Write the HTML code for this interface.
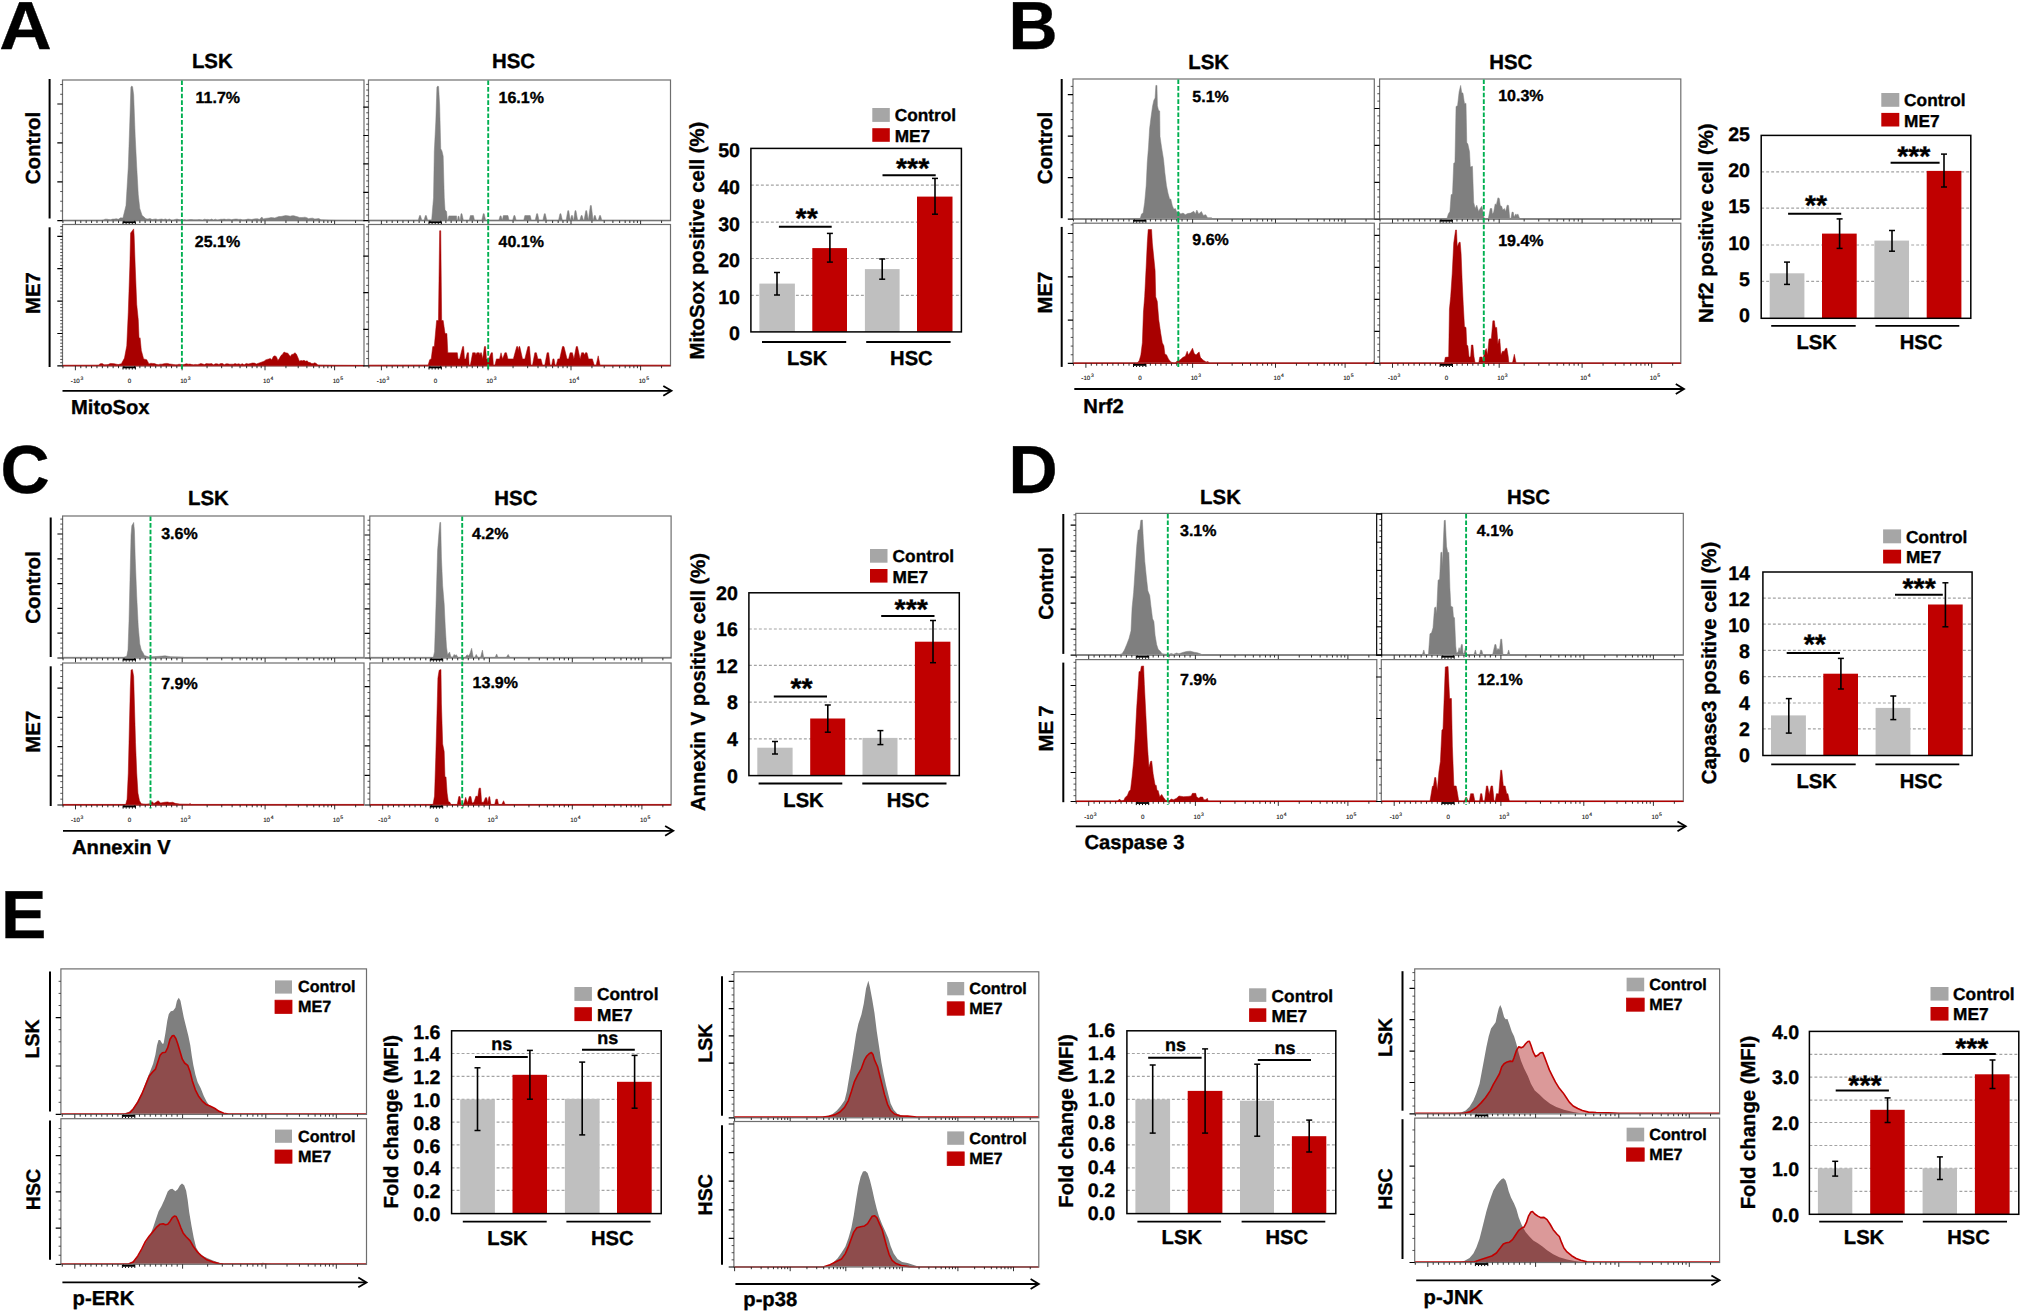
<!DOCTYPE html>
<html lang="en"><head><meta charset="utf-8"><title>Figure</title>
<style>html,body{margin:0;padding:0;background:#fff}svg{display:block}text{stroke:#000;stroke-width:.35px;stroke-linejoin:round}text.n{stroke:#111;stroke-width:.12px}</style></head>
<body>
<svg width="2020" height="1312" viewBox="0 0 2020 1312" font-family='"Liberation Sans", Arial, Helvetica, sans-serif' font-weight="bold" fill="#000" text-rendering="geometricPrecision">
<text x="-0.8" y="49.3" font-size="68" textLength="52.5" lengthAdjust="spacingAndGlyphs">A</text>
<rect x="62.5" y="80" width="301.5" height="140.7" fill="#fff"/>
<g clip-path="url(#c_A00)">
<clipPath id="c_A00"><rect x="62.5" y="80" width="301.5" height="141.7"/></clipPath>
<path d="M63.07 220.1L63.07 220.33L101.44 220.18L103.28 219.95L105.12 219.15L106.96 219.14L108.8 219.56L110.64 219.72L112.56 219.11L114.48 219.04L116.4 218.72L118.32 219.26L120.62 217.86L122.92 218.03L125.99 205.45L128.29 167.08L129.83 121.04L130.9 87.28L131.67 86.05L132.59 86.66L133.66 94.95L135.2 136.39L136.73 167.08L138.27 194.71L139.8 208.52L142.11 215.42L144.02 217.02L145.94 218.8L147.99 219.03L150.03 218.48L152.08 219.57L154 219.17L155.92 218.88L157.84 219.68L159.75 219.28L161.67 219.04L163.59 219.57L165.51 218.89L167.43 219.87L169.35 218.99L171.26 219.88L173.18 219.91L175.1 219.41L177.02 219.03L178.94 219.61L180.86 219.79L182.77 220.03L184.58 219.61L186.39 220L188.19 219.81L190 219.59L191.8 219.53L193.61 219.79L195.41 219.8L197.22 219.81L199.02 219.57L200.83 219.74L202.64 220.01L204.44 219.19L206.25 219.47L208.05 219.39L209.86 219.84L211.66 219.04L213.47 220.03L215.27 219.16L217.08 219.89L218.88 219.67L220.69 219.27L222.5 219.27L224.3 219.04L226.11 219.54L227.91 219.13L229.72 219.28L231.52 219.63L233.33 219.34L235.13 219.04L236.94 219.06L238.75 219.4L240.55 219.3L242.36 219.85L244.16 219.87L246.08 219.57L248 218.96L249.92 219.29L251.84 219.47L253.75 219.04L255.67 218.83L257.59 218.8L259.51 219.41L261.81 216.96L263.35 218.95L265.26 218.43L267.18 218.21L269.1 217.98L271.02 217.56L272.94 217.67L274.86 218.03L276.9 217.13L278.95 216.52L280.99 216.5L283.3 216.01L285.6 215.58L287.9 215.84L290.2 216.19L292.04 215.73L293.89 215.7L295.73 216.33L297.57 216.78L299.41 217.42L301.25 217.49L303.09 217.41L304.94 217.17L306.78 217.63L308.62 218.65L310.67 218.29L312.71 218.14L314.76 218.95L316.8 218.85L318.85 218.59L320.9 219.72L336.24 220.18L363.1 220.33L363.1 220.1Z" fill="#7f7f7f" stroke="#7f7f7f" stroke-width="0.5" stroke-linejoin="round"/>
</g>
<rect x="62.5" y="80" width="301.5" height="140.7" fill="none" stroke="#6e6e6e" stroke-width="1.2"/>
<path d="M62.5 210.97h-2.3M62.5 201.25h-2.3M62.5 191.53h-2.3M62.5 172.08h-2.3M62.5 162.35h-2.3M62.5 152.63h-2.3M62.5 133.18h-2.3M62.5 123.45h-2.3M62.5 113.73h-2.3M62.5 94.28h-2.3M62.5 84.55h-2.3" fill="none" stroke="#2a2a2a" stroke-width="0.8"/>
<path d="M62.5 104h-5.2M62.5 142.9h-5.2M62.5 181.8h-5.2M62.5 220.7h-5.2" fill="none" stroke="#000" stroke-width="1.2"/>
<path d="M75.4 220.7v4.4M182.1 220.7v4.4M265 220.7v4.4M334.6 220.7v4.4M207.06 220.7v2.3M221.65 220.7v2.3M232.01 220.7v2.3M240.04 220.7v2.3M246.61 220.7v2.3M252.16 220.7v2.3M256.97 220.7v2.3M261.21 220.7v2.3M285.95 220.7v2.3M298.21 220.7v2.3M306.9 220.7v2.3M313.65 220.7v2.3M319.16 220.7v2.3M323.82 220.7v2.3M327.86 220.7v2.3M331.42 220.7v2.3M355.55 220.7v2.3M134.58 220.7v2.3M123.91 220.7v2.3M139.86 220.7v2.3M118.52 220.7v2.3M145.14 220.7v2.3M113.13 220.7v2.3M150.42 220.7v2.3M107.74 220.7v2.3M155.7 220.7v2.3M102.35 220.7v2.3M160.98 220.7v2.3M96.96 220.7v2.3M166.26 220.7v2.3M91.57 220.7v2.3M171.54 220.7v2.3M86.18 220.7v2.3M176.82 220.7v2.3M80.79 220.7v2.3M62.92 220.7v2.3" fill="none" stroke="#1a1a1a" stroke-width="0.9"/>
<rect x="122.5" y="221.3" width="13.4" height="1.8" fill="#000"/>
<path d="M123 222.9v1.4M126.1 222.9v1.4M129.2 222.9v1.4M132.3 222.9v1.4M135.4 222.9v1.4" fill="none" stroke="#000" stroke-width="1"/>
<rect x="62.5" y="224.5" width="301.5" height="141.4" fill="#fff"/>
<g clip-path="url(#c_A10)">
<clipPath id="c_A10"><rect x="62.5" y="224.5" width="301.5" height="142.4"/></clipPath>
<path d="M63.07 365.3L63.07 365.33L98.37 365.18L100.29 363.73L102.2 363.62L104.12 364.76L106.04 364.72L108.09 364.58L110.13 363.5L112.18 363.61L114.23 363.68L116.27 364.16L118.32 364.57L121.39 363.65L124.46 358.12L126.76 345.84L128.29 312.08L129.83 266.04L130.6 233.04L133.66 228.9L134.13 235.35L135.2 266.04L136.73 304.41L138.27 319.75L139.04 338.17L140.11 337.86L141.34 350.45L143.64 358.89L146.71 359.66L149.01 363.95L150.85 363.26L152.69 363.41L154.54 363.6L156.38 364.35L158.22 364.72L160.11 364.13L162 364.19L163.89 363.74L165.78 363.38L167.66 363.45L169.55 364.03L171.44 364.18L173.33 364.44L175.22 364.78L177.11 364.8L179 364.2L180.89 364.42L182.77 364.87L184.58 364.34L186.39 363.63L188.19 364.14L190 364.09L191.8 364.54L193.61 364.84L195.41 364.42L197.22 364.68L199.02 364.16L200.83 363.48L202.64 363.93L204.44 364.62L206.25 363.62L208.05 363.76L209.86 363.85L211.66 363.6L213.47 364.87L215.27 363.81L217.08 363.77L218.88 364.38L220.69 363.5L222.5 363.53L224.3 364.65L226.11 363.82L227.91 363.87L229.72 364.23L231.52 364.13L233.33 364.19L235.13 363.58L236.94 364.17L238.75 363.71L240.55 364.38L242.36 363.64L244.16 364.87L246.21 363.46L248.25 363.92L250.3 363.62L252.35 362.97L254.39 363.09L256.44 363.95L264.11 361.19L265.65 359.89L267.18 359.39L268.72 359L270.25 358.46L271.79 359.66L273.32 356.55L274.86 355.82L276.39 356.65L277.93 360.42L279.46 358.33L280.99 355.59L282.53 354.28L284.06 352.01L285.6 352.75L287.9 353.21L290.2 356.59L291.74 354.4L293.27 354.28L294.81 352.69L296.34 353.98L297.88 357.4L299.41 361.19L300.95 360.44L302.48 360.8L304.01 360.32L305.55 361.19L307.08 360.85L308.62 362.32L310.15 362.57L311.69 363.49L313.22 363.43L314.76 362.79L316.29 363.42L317.83 365.03L336.24 365.33L363.1 365.49L363.1 365.3Z" fill="#a80000" stroke="#a80000" stroke-width="0.5" stroke-linejoin="round"/>
</g>
<rect x="62.5" y="224.5" width="301.5" height="141.4" fill="none" stroke="#6e6e6e" stroke-width="1.2"/>
<line x1="62.5" y1="365.8" x2="364" y2="365.8" stroke="#b00000" stroke-width="1.1"/>
<path d="M62.5 362.66h-2.3M62.5 359.42h-2.3M62.5 356.18h-2.3M62.5 352.94h-2.3M62.5 349.7h-2.3M62.5 346.46h-2.3M62.5 343.22h-2.3M62.5 339.98h-2.3M62.5 336.74h-2.3M62.5 330.26h-2.3M62.5 327.02h-2.3M62.5 323.78h-2.3M62.5 320.54h-2.3M62.5 317.3h-2.3M62.5 314.06h-2.3M62.5 310.82h-2.3M62.5 307.58h-2.3M62.5 304.34h-2.3M62.5 297.86h-2.3M62.5 294.62h-2.3M62.5 291.38h-2.3M62.5 288.14h-2.3M62.5 284.9h-2.3M62.5 281.66h-2.3M62.5 278.42h-2.3M62.5 275.18h-2.3M62.5 271.94h-2.3M62.5 265.46h-2.3M62.5 262.22h-2.3M62.5 258.98h-2.3M62.5 255.74h-2.3M62.5 252.5h-2.3M62.5 249.26h-2.3M62.5 246.02h-2.3M62.5 242.78h-2.3M62.5 239.54h-2.3M62.5 233.06h-2.3M62.5 229.82h-2.3M62.5 226.58h-2.3" fill="none" stroke="#2a2a2a" stroke-width="0.8"/>
<path d="M62.5 236.3h-5.2M62.5 268.7h-5.2M62.5 301.1h-5.2M62.5 333.5h-5.2M62.5 365.9h-5.2" fill="none" stroke="#000" stroke-width="1.2"/>
<path d="M75.4 365.9v4.4M182.1 365.9v4.4M265 365.9v4.4M334.6 365.9v4.4M207.06 365.9v2.3M221.65 365.9v2.3M232.01 365.9v2.3M240.04 365.9v2.3M246.61 365.9v2.3M252.16 365.9v2.3M256.97 365.9v2.3M261.21 365.9v2.3M285.95 365.9v2.3M298.21 365.9v2.3M306.9 365.9v2.3M313.65 365.9v2.3M319.16 365.9v2.3M323.82 365.9v2.3M327.86 365.9v2.3M331.42 365.9v2.3M355.55 365.9v2.3M134.58 365.9v2.3M123.91 365.9v2.3M139.86 365.9v2.3M118.52 365.9v2.3M145.14 365.9v2.3M113.13 365.9v2.3M150.42 365.9v2.3M107.74 365.9v2.3M155.7 365.9v2.3M102.35 365.9v2.3M160.98 365.9v2.3M96.96 365.9v2.3M166.26 365.9v2.3M91.57 365.9v2.3M171.54 365.9v2.3M86.18 365.9v2.3M176.82 365.9v2.3M80.79 365.9v2.3M62.92 365.9v2.3" fill="none" stroke="#1a1a1a" stroke-width="0.9"/>
<rect x="122.5" y="366.5" width="13.4" height="1.8" fill="#000"/>
<path d="M123 368.1v1.4M126.1 368.1v1.4M129.2 368.1v1.4M132.3 368.1v1.4M135.4 368.1v1.4" fill="none" stroke="#000" stroke-width="1"/>
<rect x="368.5" y="80" width="302" height="140.7" fill="#fff"/>
<g clip-path="url(#c_A01)">
<clipPath id="c_A01"><rect x="368.5" y="80" width="302" height="141.7"/></clipPath>
<path d="M369.07 220.1L369.07 220.18L418.27 220.18L419.56 215.58L420.48 215.58L421.77 220.18L424.1 220.18L425.39 215.58L426.31 215.58L427.6 220.18L431.68 220.03L433.53 197.77L434.29 151.73L435.83 121.04L436.9 87.28L437.82 86.05L438.59 86.51L439.66 105.69L440.74 148.66L441.97 150.97L443.19 156.34L444.27 197.77L445.04 210.05L446.57 211.59L447.34 220.03L447.8 220.18L448.87 215.88L456.55 215.88L456.85 220.18L457.62 220.18L458.08 216.34L459 216.34L459.56 220.18L460.23 220.18L461 213.74L461.92 213.74L463.35 220.18L469.28 220.18L470.36 215.58L473.43 215.58L474.5 220.18L481.81 220.18L483.25 213.74L484.17 213.74L485.61 220.18L498.87 220.18L500.13 215.88L501.05 215.88L502.28 220.18L502.32 220.18L503.35 215.58L507.96 215.58L509.03 220.18L512.65 220.18L513.94 215.58L514.86 215.58L516.15 220.18L523.77 220.18L524.84 215.58L530.21 215.58L531.29 220.18L535.22 220.18L536.66 213.74L537.58 213.74L539.01 220.18L542.89 220.18L544.33 213.74L545.25 213.74L546.69 220.18L558.55 220.18L559.98 213.74L560.9 213.74L562.34 220.18L566.13 220.18L567.81 210.67L568.73 210.67L570.21 220.18L570.41 220.18L571.49 215.58L572.41 215.58L573.34 220.18L573.7 220.18L575.02 210.67L575.94 210.67L577.63 220.18L579.87 220.18L581.16 215.58L582.08 215.58L583.37 220.18L584.08 220.18L585.77 210.67L586.69 210.67L588.28 220.18L588.37 220.18L590.37 205.6L591.29 205.6L593.07 220.18L593.38 220.18L594.36 215.58L595.28 215.58L596.57 220.18L598.29 220.18L599.58 215.58L600.5 215.58L601.79 220.18L670.63 220.33L670.63 220.1Z" fill="#7f7f7f" stroke="#7f7f7f" stroke-width="0.5" stroke-linejoin="round"/>
</g>
<rect x="368.5" y="80" width="302" height="140.7" fill="none" stroke="#6e6e6e" stroke-width="1.2"/>
<path d="M368.5 215.02h-2.3M368.5 209.34h-2.3M368.5 203.66h-2.3M368.5 197.98h-2.3M368.5 186.62h-2.3M368.5 180.94h-2.3M368.5 175.26h-2.3M368.5 169.58h-2.3M368.5 158.22h-2.3M368.5 152.54h-2.3M368.5 146.86h-2.3M368.5 141.18h-2.3M368.5 129.82h-2.3M368.5 124.14h-2.3M368.5 118.46h-2.3M368.5 112.78h-2.3M368.5 101.42h-2.3M368.5 95.74h-2.3M368.5 90.06h-2.3M368.5 84.38h-2.3" fill="none" stroke="#2a2a2a" stroke-width="0.8"/>
<path d="M368.5 107.1h-5.2M368.5 135.5h-5.2M368.5 163.9h-5.2M368.5 192.3h-5.2M368.5 220.7h-5.2" fill="none" stroke="#000" stroke-width="1.2"/>
<path d="M381.4 220.7v4.4M488.1 220.7v4.4M571 220.7v4.4M640.6 220.7v4.4M513.06 220.7v2.3M527.65 220.7v2.3M538.01 220.7v2.3M546.04 220.7v2.3M552.61 220.7v2.3M558.16 220.7v2.3M562.97 220.7v2.3M567.21 220.7v2.3M591.95 220.7v2.3M604.21 220.7v2.3M612.9 220.7v2.3M619.65 220.7v2.3M625.16 220.7v2.3M629.82 220.7v2.3M633.86 220.7v2.3M637.42 220.7v2.3M661.55 220.7v2.3M440.58 220.7v2.3M429.91 220.7v2.3M445.86 220.7v2.3M424.52 220.7v2.3M451.14 220.7v2.3M419.13 220.7v2.3M456.42 220.7v2.3M413.74 220.7v2.3M461.7 220.7v2.3M408.35 220.7v2.3M466.98 220.7v2.3M402.96 220.7v2.3M472.26 220.7v2.3M397.57 220.7v2.3M477.54 220.7v2.3M392.18 220.7v2.3M482.82 220.7v2.3M386.79 220.7v2.3M368.92 220.7v2.3" fill="none" stroke="#1a1a1a" stroke-width="0.9"/>
<rect x="428.5" y="221.3" width="13.4" height="1.8" fill="#000"/>
<path d="M429 222.9v1.4M432.1 222.9v1.4M435.2 222.9v1.4M438.3 222.9v1.4M441.4 222.9v1.4" fill="none" stroke="#000" stroke-width="1"/>
<rect x="368.5" y="224.5" width="302" height="141.4" fill="#fff"/>
<g clip-path="url(#c_A11)">
<clipPath id="c_A11"><rect x="368.5" y="224.5" width="302" height="142.4"/></clipPath>
<path d="M369.07 365.3L369.07 365.18L428.15 365.03L429.69 359.66L431.22 358.89L432.76 346.61L434.29 346.61L436.6 320.52L438.44 320.52L439.66 230.74L440.74 230.74L441.66 320.52L443.19 320.52L445.04 333.57L446.88 333.57L447.8 352.75L457.31 352.75L458.08 358.89L459.62 358.89L462.69 346.61L463.61 346.61L464.53 358.89L465.75 358.89L467.29 352.75L468.52 352.75L469.13 365.03L470.36 365.03L472.66 352.75L475.27 352.75L475.88 355.05L476.8 352.75L479.26 352.75L479.87 355.05L480.64 352.75L481.41 352.75L482.64 358.89L484.48 346.61L485.55 346.61L486.47 358.89L488.77 358.89L491.23 352.75L492.46 352.75L493.38 365.03L494.91 365.03L496.45 358.89L499.52 358.89L501.05 352.75L502.59 358.89L504.89 352.75L506.42 352.75L507.96 358.89L513.33 358.89L516.71 346.61L517.63 346.61L518.24 350.45L519.01 346.61L519.78 346.61L522.54 358.89L524.84 358.89L527.91 346.61L529.44 346.61L530.98 365.03L532.51 365.03L534.82 352.75L536.35 352.75L537.88 358.89L540.95 358.89L542.49 365.03L544.79 365.03L547.09 352.75L548.63 352.75L550.16 365.03L551.7 365.03L552.92 358.89L554 358.89L555.07 365.03L556.3 365.03L557.84 358.89L559.68 358.89L562.44 346.61L563.97 346.61L567.04 358.89L568.58 358.89L570.11 352.75L572.41 352.75L573.95 358.89L576.25 346.61L577.48 346.61L580.09 358.89L581.62 352.75L583.62 352.75L584.54 355.05L585.46 352.75L586.99 352.75L588.53 358.89L592.37 358.89L594.21 365.03L596.2 365.03L598.2 355.82L600.04 365.03L670.63 365.18L670.63 365.3Z" fill="#a80000" stroke="#a80000" stroke-width="0.5" stroke-linejoin="round"/>
</g>
<rect x="368.5" y="224.5" width="302" height="141.4" fill="none" stroke="#6e6e6e" stroke-width="1.2"/>
<line x1="368.5" y1="365.8" x2="670.5" y2="365.8" stroke="#b00000" stroke-width="1.1"/>
<path d="M368.5 358.58h-2.3M368.5 351.26h-2.3M368.5 343.94h-2.3M368.5 336.62h-2.3M368.5 321.98h-2.3M368.5 314.66h-2.3M368.5 307.34h-2.3M368.5 300.02h-2.3M368.5 285.38h-2.3M368.5 278.06h-2.3M368.5 270.74h-2.3M368.5 263.42h-2.3M368.5 248.78h-2.3M368.5 241.46h-2.3M368.5 234.14h-2.3M368.5 226.82h-2.3" fill="none" stroke="#2a2a2a" stroke-width="0.8"/>
<path d="M368.5 256.1h-5.2M368.5 292.7h-5.2M368.5 329.3h-5.2M368.5 365.9h-5.2" fill="none" stroke="#000" stroke-width="1.2"/>
<path d="M381.4 365.9v4.4M488.1 365.9v4.4M571 365.9v4.4M640.6 365.9v4.4M513.06 365.9v2.3M527.65 365.9v2.3M538.01 365.9v2.3M546.04 365.9v2.3M552.61 365.9v2.3M558.16 365.9v2.3M562.97 365.9v2.3M567.21 365.9v2.3M591.95 365.9v2.3M604.21 365.9v2.3M612.9 365.9v2.3M619.65 365.9v2.3M625.16 365.9v2.3M629.82 365.9v2.3M633.86 365.9v2.3M637.42 365.9v2.3M661.55 365.9v2.3M440.58 365.9v2.3M429.91 365.9v2.3M445.86 365.9v2.3M424.52 365.9v2.3M451.14 365.9v2.3M419.13 365.9v2.3M456.42 365.9v2.3M413.74 365.9v2.3M461.7 365.9v2.3M408.35 365.9v2.3M466.98 365.9v2.3M402.96 365.9v2.3M472.26 365.9v2.3M397.57 365.9v2.3M477.54 365.9v2.3M392.18 365.9v2.3M482.82 365.9v2.3M386.79 365.9v2.3M368.92 365.9v2.3" fill="none" stroke="#1a1a1a" stroke-width="0.9"/>
<rect x="428.5" y="366.5" width="13.4" height="1.8" fill="#000"/>
<path d="M429 368.1v1.4M432.1 368.1v1.4M435.2 368.1v1.4M438.3 368.1v1.4M441.4 368.1v1.4" fill="none" stroke="#000" stroke-width="1"/>
<line x1="181.9" y1="80.5" x2="181.9" y2="369.4" stroke="#00b050" stroke-width="1.9" stroke-dasharray="4.6 2.0"/>
<line x1="488.2" y1="80.5" x2="488.2" y2="369.4" stroke="#00b050" stroke-width="1.9" stroke-dasharray="4.6 2.0"/>
<text x="195.6" y="102.5" font-size="16">11.7%</text>
<text x="194.8" y="247" font-size="16">25.1%</text>
<text x="498.5" y="102.5" font-size="16">16.1%</text>
<text x="498.5" y="247" font-size="16">40.1%</text>
<text x="212.3" y="67.7" font-size="20.4" text-anchor="middle">LSK</text>
<text x="513.5" y="67.7" font-size="20.4" text-anchor="middle">HSC</text>
<line x1="49.6" y1="79" x2="49.6" y2="218.5" stroke="#000" stroke-width="2"/>
<line x1="49.6" y1="227.3" x2="49.6" y2="367" stroke="#000" stroke-width="2"/>
<text x="39.5" y="148" font-size="20.4" text-anchor="middle" transform="rotate(-90 39.5 148)">Control</text>
<text x="39.5" y="293" font-size="20.4" text-anchor="middle" transform="rotate(-90 39.5 293)">ME7</text>
<text x="77" y="383.2" font-size="6.2" text-anchor="middle" class="n" font-weight="normal" fill="#111">-10<tspan dy="-3.1" dx="0.6" font-size="5">3</tspan></text>
<text x="129.5" y="383.2" font-size="6.2" text-anchor="middle" class="n" font-weight="normal" fill="#111">0</text>
<text x="185.3" y="383.2" font-size="6.2" text-anchor="middle" class="n" font-weight="normal" fill="#111">10<tspan dy="-3.1" dx="0.6" font-size="5">3</tspan></text>
<text x="268.2" y="383.2" font-size="6.2" text-anchor="middle" class="n" font-weight="normal" fill="#111">10<tspan dy="-3.1" dx="0.6" font-size="5">4</tspan></text>
<text x="337.8" y="383.2" font-size="6.2" text-anchor="middle" class="n" font-weight="normal" fill="#111">10<tspan dy="-3.1" dx="0.6" font-size="5">5</tspan></text>
<text x="383" y="383.2" font-size="6.2" text-anchor="middle" class="n" font-weight="normal" fill="#111">-10<tspan dy="-3.1" dx="0.6" font-size="5">3</tspan></text>
<text x="435.5" y="383.2" font-size="6.2" text-anchor="middle" class="n" font-weight="normal" fill="#111">0</text>
<text x="491.3" y="383.2" font-size="6.2" text-anchor="middle" class="n" font-weight="normal" fill="#111">10<tspan dy="-3.1" dx="0.6" font-size="5">3</tspan></text>
<text x="574.2" y="383.2" font-size="6.2" text-anchor="middle" class="n" font-weight="normal" fill="#111">10<tspan dy="-3.1" dx="0.6" font-size="5">4</tspan></text>
<text x="643.8" y="383.2" font-size="6.2" text-anchor="middle" class="n" font-weight="normal" fill="#111">10<tspan dy="-3.1" dx="0.6" font-size="5">5</tspan></text>
<line x1="62.5" y1="390.8" x2="670.5" y2="390.8" stroke="#000" stroke-width="1.8"/>
<path d="M663.3 385.9 L671.5 390.8 L663.3 395.7" fill="none" stroke="#000" stroke-width="1.8" stroke-linejoin="miter" stroke-linecap="butt"/>
<text x="71" y="414" font-size="20.2">MitoSox</text>
<line x1="750.9" y1="185.2" x2="961.4" y2="185.2" stroke="#a3a3a3" stroke-width="1.2" stroke-dasharray="2.9 2.1"/>
<line x1="750.9" y1="222.2" x2="961.4" y2="222.2" stroke="#a3a3a3" stroke-width="1.2" stroke-dasharray="2.9 2.1"/>
<line x1="750.9" y1="258.5" x2="961.4" y2="258.5" stroke="#a3a3a3" stroke-width="1.2" stroke-dasharray="2.9 2.1"/>
<line x1="750.9" y1="295.3" x2="961.4" y2="295.3" stroke="#a3a3a3" stroke-width="1.2" stroke-dasharray="2.9 2.1"/>
<rect x="759.4" y="283.6" width="35.5" height="48.3" fill="#bfbfbf"/>
<rect x="812.3" y="248.1" width="34.7" height="83.8" fill="#c00000"/>
<rect x="864.9" y="269.1" width="34.7" height="62.8" fill="#bfbfbf"/>
<rect x="917" y="196.6" width="35.5" height="135.3" fill="#c00000"/>
<rect x="750.9" y="148.4" width="210.5" height="183.5" fill="none" stroke="#000" stroke-width="1.5"/>
<line x1="777" y1="272.5" x2="777" y2="295" stroke="#000" stroke-width="1.6"/>
<line x1="774" y1="272.5" x2="780" y2="272.5" stroke="#000" stroke-width="1.5"/>
<line x1="774" y1="295" x2="780" y2="295" stroke="#000" stroke-width="1.5"/>
<line x1="829.9" y1="233.4" x2="829.9" y2="262.1" stroke="#000" stroke-width="1.6"/>
<line x1="826.9" y1="233.4" x2="832.9" y2="233.4" stroke="#000" stroke-width="1.5"/>
<line x1="826.9" y1="262.1" x2="832.9" y2="262.1" stroke="#000" stroke-width="1.5"/>
<line x1="882.2" y1="259" x2="882.2" y2="279.2" stroke="#000" stroke-width="1.6"/>
<line x1="879.2" y1="259" x2="885.2" y2="259" stroke="#000" stroke-width="1.5"/>
<line x1="879.2" y1="279.2" x2="885.2" y2="279.2" stroke="#000" stroke-width="1.5"/>
<line x1="935" y1="178.4" x2="935" y2="214.2" stroke="#000" stroke-width="1.6"/>
<line x1="932" y1="178.4" x2="938" y2="178.4" stroke="#000" stroke-width="1.5"/>
<line x1="932" y1="214.2" x2="938" y2="214.2" stroke="#000" stroke-width="1.5"/>
<text x="740" y="157.4" font-size="19.6" text-anchor="end">50</text>
<text x="740" y="193.95" font-size="19.6" text-anchor="end">40</text>
<text x="740" y="230.5" font-size="19.6" text-anchor="end">30</text>
<text x="740" y="267.05" font-size="19.6" text-anchor="end">20</text>
<text x="740" y="303.6" font-size="19.6" text-anchor="end">10</text>
<text x="740" y="340.15" font-size="19.6" text-anchor="end">0</text>
<text x="704.5" y="240.7" font-size="20.3" text-anchor="middle" transform="rotate(-90 704.5 240.7)">MitoSox positive cell (%)</text>
<line x1="778.9" y1="226.8" x2="831.7" y2="226.8" stroke="#000" stroke-width="2"/>
<text x="806.7" y="228.3" font-size="28.5" text-anchor="middle">**</text>
<line x1="882.5" y1="175.3" x2="935.7" y2="175.3" stroke="#000" stroke-width="2"/>
<text x="912.6" y="178.3" font-size="28.5" text-anchor="middle">***</text>
<rect x="872.3" y="108" width="17.5" height="13.9" fill="#a6a6a6"/>
<rect x="872.3" y="128.2" width="17.5" height="13.6" fill="#c00000"/>
<text x="894.7" y="121.2" font-size="17.3">Control</text>
<text x="894.7" y="141.6" font-size="17.3">ME7</text>
<line x1="762" y1="342" x2="846.2" y2="342" stroke="#000" stroke-width="1.8"/>
<line x1="866.2" y1="342" x2="950.6" y2="342" stroke="#000" stroke-width="1.8"/>
<text x="807.1" y="365" font-size="20.2" text-anchor="middle">LSK</text>
<text x="911.4" y="365" font-size="20.2" text-anchor="middle">HSC</text>
<text x="1008.4" y="49.3" font-size="68">B</text>
<rect x="1073" y="79" width="301.3" height="140.2" fill="#fff"/>
<g clip-path="url(#c_B00)">
<clipPath id="c_B00"><rect x="1073" y="79" width="301.3" height="141.2"/></clipPath>
<path d="M1073.3 218.6L1073.3 218.8L1140.06 218.8L1141.6 213.89L1143.13 213.12L1144.66 202.38L1146.2 185.5L1147.27 162.48L1148.5 147.13L1149.58 128.71L1151.11 116.44L1152.65 105.69L1153.87 100.32L1155.1 98.02L1155.87 85.44L1156.94 85.44L1157.4 105.69L1158.48 110.3L1159.7 111.07L1160.01 136.39L1161.55 147.13L1163.54 159.41L1164.92 173.22L1166.46 185.5L1167.99 193.17L1169.68 199.31L1170.75 199L1172.29 205.45L1173.82 209.28L1175.36 208.52L1176.89 212.35L1178.43 211.59L1180.73 213.89L1183.03 213.12L1185.33 214.66L1187.64 213.58L1190.71 213.12L1193.77 211.28L1195.31 213.89L1196.84 210.05L1198.69 213.89L1201.45 211.59L1203.29 215.42L1205.75 214.66L1207.59 217.73L1211.42 217.73L1212.96 218.8L1374.56 218.95L1374.56 218.6Z" fill="#7f7f7f" stroke="#7f7f7f" stroke-width="0.5" stroke-linejoin="round"/>
</g>
<rect x="1073" y="79" width="301.3" height="140.2" fill="none" stroke="#6e6e6e" stroke-width="1.2"/>
<path d="M1073 210.9h-2.3M1073 202.6h-2.3M1073 194.3h-2.3M1073 186h-2.3M1073 169.4h-2.3M1073 161.1h-2.3M1073 152.8h-2.3M1073 144.5h-2.3M1073 127.9h-2.3M1073 119.6h-2.3M1073 111.3h-2.3M1073 103h-2.3M1073 86.4h-2.3" fill="none" stroke="#2a2a2a" stroke-width="0.8"/>
<path d="M1073 94.7h-5.2M1073 136.2h-5.2M1073 177.7h-5.2M1073 219.2h-5.2" fill="none" stroke="#000" stroke-width="1.2"/>
<path d="M1085.9 219.2v4.4M1192.6 219.2v4.4M1275.5 219.2v4.4M1345.1 219.2v4.4M1217.56 219.2v2.3M1232.15 219.2v2.3M1242.51 219.2v2.3M1250.54 219.2v2.3M1257.11 219.2v2.3M1262.66 219.2v2.3M1267.47 219.2v2.3M1271.71 219.2v2.3M1296.45 219.2v2.3M1308.71 219.2v2.3M1317.4 219.2v2.3M1324.15 219.2v2.3M1329.66 219.2v2.3M1334.32 219.2v2.3M1338.36 219.2v2.3M1341.92 219.2v2.3M1366.05 219.2v2.3M1145.08 219.2v2.3M1134.41 219.2v2.3M1150.36 219.2v2.3M1129.02 219.2v2.3M1155.64 219.2v2.3M1123.63 219.2v2.3M1160.92 219.2v2.3M1118.24 219.2v2.3M1166.2 219.2v2.3M1112.85 219.2v2.3M1171.48 219.2v2.3M1107.46 219.2v2.3M1176.76 219.2v2.3M1102.07 219.2v2.3M1182.04 219.2v2.3M1096.68 219.2v2.3M1187.32 219.2v2.3M1091.29 219.2v2.3M1073.42 219.2v2.3" fill="none" stroke="#1a1a1a" stroke-width="0.9"/>
<rect x="1133" y="219.8" width="13.4" height="1.8" fill="#000"/>
<path d="M1133.5 221.4v1.4M1136.6 221.4v1.4M1139.7 221.4v1.4M1142.8 221.4v1.4M1145.9 221.4v1.4" fill="none" stroke="#000" stroke-width="1"/>
<rect x="1073" y="223.2" width="301.3" height="140.2" fill="#fff"/>
<g clip-path="url(#c_B10)">
<clipPath id="c_B10"><rect x="1073" y="223.2" width="301.3" height="141.2"/></clipPath>
<path d="M1073.3 362.8L1073.3 363.49L1136.99 363.49L1139.29 360.42L1140.83 355.05L1142.36 342.77L1143.44 312.08L1144.66 296.73L1146.2 266.04L1147.27 243.02L1148.19 229.52L1151.57 229.52L1152.34 243.02L1153.87 258.37L1155.1 270.64L1155.71 296.73L1157.25 301.34L1158.78 319.75L1160.78 333.57L1162.31 342.77L1163.85 345.84L1164.92 354.28L1166.46 354.75L1168.45 358.89L1170.75 361.96L1173.06 362.73L1174.59 363.49L1176.89 361.19L1179.96 359.96L1183.03 357.35L1185.33 356.28L1187.18 351.22L1188.4 355.05L1190.4 351.98L1192.55 348.15L1194.24 353.52L1196.08 355.05L1197.61 353.21L1199.15 351.98L1200.37 357.35L1202.98 359.96L1206.05 361.96L1208.05 361.5L1209.89 363.49L1371.03 363.49L1373.64 361.5L1374.56 363.49L1374.56 362.8Z" fill="#a80000" stroke="#a80000" stroke-width="0.5" stroke-linejoin="round"/>
</g>
<rect x="1073" y="223.2" width="301.3" height="140.2" fill="none" stroke="#6e6e6e" stroke-width="1.2"/>
<line x1="1073" y1="363.3" x2="1374.3" y2="363.3" stroke="#b00000" stroke-width="1.1"/>
<path d="M1073 354.74h-2.3M1073 346.08h-2.3M1073 337.42h-2.3M1073 328.76h-2.3M1073 311.44h-2.3M1073 302.78h-2.3M1073 294.12h-2.3M1073 285.46h-2.3M1073 268.14h-2.3M1073 259.48h-2.3M1073 250.82h-2.3M1073 242.16h-2.3M1073 224.84h-2.3" fill="none" stroke="#2a2a2a" stroke-width="0.8"/>
<path d="M1073 233.5h-5.2M1073 276.8h-5.2M1073 320.1h-5.2M1073 363.4h-5.2" fill="none" stroke="#000" stroke-width="1.2"/>
<path d="M1085.9 363.4v4.4M1192.6 363.4v4.4M1275.5 363.4v4.4M1345.1 363.4v4.4M1217.56 363.4v2.3M1232.15 363.4v2.3M1242.51 363.4v2.3M1250.54 363.4v2.3M1257.11 363.4v2.3M1262.66 363.4v2.3M1267.47 363.4v2.3M1271.71 363.4v2.3M1296.45 363.4v2.3M1308.71 363.4v2.3M1317.4 363.4v2.3M1324.15 363.4v2.3M1329.66 363.4v2.3M1334.32 363.4v2.3M1338.36 363.4v2.3M1341.92 363.4v2.3M1366.05 363.4v2.3M1145.08 363.4v2.3M1134.41 363.4v2.3M1150.36 363.4v2.3M1129.02 363.4v2.3M1155.64 363.4v2.3M1123.63 363.4v2.3M1160.92 363.4v2.3M1118.24 363.4v2.3M1166.2 363.4v2.3M1112.85 363.4v2.3M1171.48 363.4v2.3M1107.46 363.4v2.3M1176.76 363.4v2.3M1102.07 363.4v2.3M1182.04 363.4v2.3M1096.68 363.4v2.3M1187.32 363.4v2.3M1091.29 363.4v2.3M1073.42 363.4v2.3" fill="none" stroke="#1a1a1a" stroke-width="0.9"/>
<rect x="1133" y="364" width="13.4" height="1.8" fill="#000"/>
<path d="M1133.5 365.6v1.4M1136.6 365.6v1.4M1139.7 365.6v1.4M1142.8 365.6v1.4M1145.9 365.6v1.4" fill="none" stroke="#000" stroke-width="1"/>
<rect x="1379.6" y="79" width="301.2" height="140.2" fill="#fff"/>
<g clip-path="url(#c_B01)">
<clipPath id="c_B01"><rect x="1379.6" y="79" width="301.2" height="141.2"/></clipPath>
<path d="M1379.76 218.6L1379.76 218.95L1446.83 218.95L1448.36 213.89L1449.9 211.59L1451.13 194.71L1452.51 193.94L1453.73 163.24L1454.96 162.48L1456.04 106.46L1457.57 105.69L1459.11 91.88L1460.64 85.44L1461.71 92.65L1462.94 93.11L1464.48 103.39L1466.01 103.39L1466.78 142.53L1467.85 144.06L1469.54 151.73L1470.31 167.08L1472.46 166.31L1473.69 202.38L1475.22 208.52L1476.75 205.14L1478.6 211.59L1480.13 208.52L1481.82 206.22L1483.2 213.12L1484.43 218.95L1488.26 218.95L1490.26 208.52L1491.79 208.52L1492.41 213.89L1493.64 212.35L1495.17 203.91L1496.4 204.68L1497.93 197.77L1499.31 198.54L1500.24 205.45L1501.62 206.22L1502.84 210.05L1504.38 208.52L1505.61 211.59L1507.14 205.14L1508.52 205.45L1509.75 218.49L1510.98 218.49L1512.05 212.05L1513.28 212.35L1514.05 216.96L1515.89 213.89L1516.96 215.42L1517.88 213.89L1519.73 218.95L1680.87 218.95L1680.87 218.6Z" fill="#7f7f7f" stroke="#7f7f7f" stroke-width="0.5" stroke-linejoin="round"/>
</g>
<rect x="1379.6" y="79" width="301.2" height="140.2" fill="none" stroke="#6e6e6e" stroke-width="1.2"/>
<path d="M1379.6 211.82h-2.3M1379.6 204.44h-2.3M1379.6 197.06h-2.3M1379.6 189.68h-2.3M1379.6 174.92h-2.3M1379.6 167.54h-2.3M1379.6 160.16h-2.3M1379.6 152.78h-2.3M1379.6 138.02h-2.3M1379.6 130.64h-2.3M1379.6 123.26h-2.3M1379.6 115.88h-2.3M1379.6 101.12h-2.3M1379.6 93.74h-2.3M1379.6 86.36h-2.3" fill="none" stroke="#2a2a2a" stroke-width="0.8"/>
<path d="M1379.6 108.5h-5.2M1379.6 145.4h-5.2M1379.6 182.3h-5.2M1379.6 219.2h-5.2" fill="none" stroke="#000" stroke-width="1.2"/>
<path d="M1392.5 219.2v4.4M1499.2 219.2v4.4M1582.1 219.2v4.4M1651.7 219.2v4.4M1524.16 219.2v2.3M1538.75 219.2v2.3M1549.11 219.2v2.3M1557.14 219.2v2.3M1563.71 219.2v2.3M1569.26 219.2v2.3M1574.07 219.2v2.3M1578.31 219.2v2.3M1603.05 219.2v2.3M1615.31 219.2v2.3M1624 219.2v2.3M1630.75 219.2v2.3M1636.26 219.2v2.3M1640.92 219.2v2.3M1644.96 219.2v2.3M1648.52 219.2v2.3M1672.65 219.2v2.3M1451.68 219.2v2.3M1441.01 219.2v2.3M1456.96 219.2v2.3M1435.62 219.2v2.3M1462.24 219.2v2.3M1430.23 219.2v2.3M1467.52 219.2v2.3M1424.84 219.2v2.3M1472.8 219.2v2.3M1419.45 219.2v2.3M1478.08 219.2v2.3M1414.06 219.2v2.3M1483.36 219.2v2.3M1408.67 219.2v2.3M1488.64 219.2v2.3M1403.28 219.2v2.3M1493.92 219.2v2.3M1397.89 219.2v2.3M1380.02 219.2v2.3" fill="none" stroke="#1a1a1a" stroke-width="0.9"/>
<rect x="1439.6" y="219.8" width="13.4" height="1.8" fill="#000"/>
<path d="M1440.1 221.4v1.4M1443.2 221.4v1.4M1446.3 221.4v1.4M1449.4 221.4v1.4M1452.5 221.4v1.4" fill="none" stroke="#000" stroke-width="1"/>
<rect x="1379.6" y="223.2" width="301.2" height="140.2" fill="#fff"/>
<g clip-path="url(#c_B11)">
<clipPath id="c_B11"><rect x="1379.6" y="223.2" width="301.2" height="141.2"/></clipPath>
<path d="M1379.76 362.8L1379.76 363.49L1444.22 363.49L1445.29 357.35L1448.67 357.05L1449.44 309.01L1450.66 296.73L1452.2 273.71L1453.73 243.02L1455.58 229.98L1456.5 229.98L1457.26 246.86L1459.11 242.25L1460.18 242.25L1461.1 253.76L1462.17 281.39L1463.25 304.41L1464.48 326.66L1466.01 327.43L1466.78 345.08L1467.85 345.84L1469.08 357.35L1470.62 356.59L1471.38 345.08L1472.92 345.08L1473.99 356.59L1475.22 363.49L1478.6 363.49L1479.82 357.05L1482.13 357.05L1482.89 360.42L1484.43 351.98L1486.27 348.61L1487.5 355.05L1489.03 338.94L1491.33 338.63L1492.87 320.83L1494.4 320.83L1495.17 327.43L1496.71 327.43L1497.93 344.31L1499.01 338.94L1499.77 338.94L1501 355.05L1502.54 351.22L1504.38 351.22L1505.61 348.61L1506.83 348.15L1508.22 356.59L1508.98 363.49L1512.36 363.49L1514.35 354.28L1516.2 363.49L1680.87 363.49L1680.87 362.8Z" fill="#a80000" stroke="#a80000" stroke-width="0.5" stroke-linejoin="round"/>
</g>
<rect x="1379.6" y="223.2" width="301.2" height="140.2" fill="none" stroke="#6e6e6e" stroke-width="1.2"/>
<line x1="1379.6" y1="363.3" x2="1680.8" y2="363.3" stroke="#b00000" stroke-width="1.1"/>
<path d="M1379.6 357h-2.3M1379.6 350.6h-2.3M1379.6 344.2h-2.3M1379.6 337.8h-2.3M1379.6 325h-2.3M1379.6 318.6h-2.3M1379.6 312.2h-2.3M1379.6 305.8h-2.3M1379.6 293h-2.3M1379.6 286.6h-2.3M1379.6 280.2h-2.3M1379.6 273.8h-2.3M1379.6 261h-2.3M1379.6 254.6h-2.3M1379.6 248.2h-2.3M1379.6 241.8h-2.3M1379.6 229h-2.3" fill="none" stroke="#2a2a2a" stroke-width="0.8"/>
<path d="M1379.6 235.4h-5.2M1379.6 267.4h-5.2M1379.6 299.4h-5.2M1379.6 331.4h-5.2M1379.6 363.4h-5.2" fill="none" stroke="#000" stroke-width="1.2"/>
<path d="M1392.5 363.4v4.4M1499.2 363.4v4.4M1582.1 363.4v4.4M1651.7 363.4v4.4M1524.16 363.4v2.3M1538.75 363.4v2.3M1549.11 363.4v2.3M1557.14 363.4v2.3M1563.71 363.4v2.3M1569.26 363.4v2.3M1574.07 363.4v2.3M1578.31 363.4v2.3M1603.05 363.4v2.3M1615.31 363.4v2.3M1624 363.4v2.3M1630.75 363.4v2.3M1636.26 363.4v2.3M1640.92 363.4v2.3M1644.96 363.4v2.3M1648.52 363.4v2.3M1672.65 363.4v2.3M1451.68 363.4v2.3M1441.01 363.4v2.3M1456.96 363.4v2.3M1435.62 363.4v2.3M1462.24 363.4v2.3M1430.23 363.4v2.3M1467.52 363.4v2.3M1424.84 363.4v2.3M1472.8 363.4v2.3M1419.45 363.4v2.3M1478.08 363.4v2.3M1414.06 363.4v2.3M1483.36 363.4v2.3M1408.67 363.4v2.3M1488.64 363.4v2.3M1403.28 363.4v2.3M1493.92 363.4v2.3M1397.89 363.4v2.3M1380.02 363.4v2.3" fill="none" stroke="#1a1a1a" stroke-width="0.9"/>
<rect x="1439.6" y="364" width="13.4" height="1.8" fill="#000"/>
<path d="M1440.1 365.6v1.4M1443.2 365.6v1.4M1446.3 365.6v1.4M1449.4 365.6v1.4M1452.5 365.6v1.4" fill="none" stroke="#000" stroke-width="1"/>
<line x1="1178.3" y1="79.5" x2="1178.3" y2="366.9" stroke="#00b050" stroke-width="1.9" stroke-dasharray="4.6 2.0"/>
<line x1="1483.8" y1="79.5" x2="1483.8" y2="366.9" stroke="#00b050" stroke-width="1.9" stroke-dasharray="4.6 2.0"/>
<text x="1192.3" y="101.6" font-size="16">5.1%</text>
<text x="1192.3" y="245.1" font-size="16">9.6%</text>
<text x="1498.2" y="101" font-size="16">10.3%</text>
<text x="1498.2" y="245.9" font-size="16">19.4%</text>
<text x="1208.6" y="68.7" font-size="20.4" text-anchor="middle">LSK</text>
<text x="1510.8" y="68.7" font-size="20.4" text-anchor="middle">HSC</text>
<line x1="1061.7" y1="79" x2="1061.7" y2="218.2" stroke="#000" stroke-width="2"/>
<line x1="1061.7" y1="226.9" x2="1061.7" y2="366.9" stroke="#000" stroke-width="2"/>
<text x="1051.7" y="148" font-size="20.4" text-anchor="middle" transform="rotate(-90 1051.7 148)">Control</text>
<text x="1051.7" y="292.6" font-size="20.4" text-anchor="middle" transform="rotate(-90 1051.7 292.6)">ME7</text>
<text x="1087.5" y="380" font-size="6.2" text-anchor="middle" class="n" font-weight="normal" fill="#111">-10<tspan dy="-3.1" dx="0.6" font-size="5">3</tspan></text>
<text x="1140" y="380" font-size="6.2" text-anchor="middle" class="n" font-weight="normal" fill="#111">0</text>
<text x="1195.8" y="380" font-size="6.2" text-anchor="middle" class="n" font-weight="normal" fill="#111">10<tspan dy="-3.1" dx="0.6" font-size="5">3</tspan></text>
<text x="1278.7" y="380" font-size="6.2" text-anchor="middle" class="n" font-weight="normal" fill="#111">10<tspan dy="-3.1" dx="0.6" font-size="5">4</tspan></text>
<text x="1348.3" y="380" font-size="6.2" text-anchor="middle" class="n" font-weight="normal" fill="#111">10<tspan dy="-3.1" dx="0.6" font-size="5">5</tspan></text>
<text x="1394.1" y="380" font-size="6.2" text-anchor="middle" class="n" font-weight="normal" fill="#111">-10<tspan dy="-3.1" dx="0.6" font-size="5">3</tspan></text>
<text x="1446.6" y="380" font-size="6.2" text-anchor="middle" class="n" font-weight="normal" fill="#111">0</text>
<text x="1502.4" y="380" font-size="6.2" text-anchor="middle" class="n" font-weight="normal" fill="#111">10<tspan dy="-3.1" dx="0.6" font-size="5">3</tspan></text>
<text x="1585.3" y="380" font-size="6.2" text-anchor="middle" class="n" font-weight="normal" fill="#111">10<tspan dy="-3.1" dx="0.6" font-size="5">4</tspan></text>
<text x="1654.9" y="380" font-size="6.2" text-anchor="middle" class="n" font-weight="normal" fill="#111">10<tspan dy="-3.1" dx="0.6" font-size="5">5</tspan></text>
<line x1="1074.3" y1="389" x2="1683" y2="389" stroke="#000" stroke-width="1.8"/>
<path d="M1675.8 384.1 L1684 389 L1675.8 393.9" fill="none" stroke="#000" stroke-width="1.8" stroke-linejoin="miter" stroke-linecap="butt"/>
<text x="1083.3" y="412.6" font-size="20.2">Nrf2</text>
<line x1="1761.2" y1="171.9" x2="1970.8" y2="171.9" stroke="#a3a3a3" stroke-width="1.2" stroke-dasharray="2.9 2.1"/>
<line x1="1761.2" y1="208.2" x2="1970.8" y2="208.2" stroke="#a3a3a3" stroke-width="1.2" stroke-dasharray="2.9 2.1"/>
<line x1="1761.2" y1="245" x2="1970.8" y2="245" stroke="#a3a3a3" stroke-width="1.2" stroke-dasharray="2.9 2.1"/>
<line x1="1761.2" y1="281.3" x2="1970.8" y2="281.3" stroke="#a3a3a3" stroke-width="1.2" stroke-dasharray="2.9 2.1"/>
<rect x="1769.7" y="273.3" width="34.7" height="45" fill="#bfbfbf"/>
<rect x="1822" y="233.6" width="34.7" height="84.7" fill="#c00000"/>
<rect x="1874.4" y="240.6" width="34.6" height="77.7" fill="#bfbfbf"/>
<rect x="1926.7" y="170.9" width="34.7" height="147.4" fill="#c00000"/>
<rect x="1761.2" y="135.4" width="209.6" height="182.9" fill="none" stroke="#000" stroke-width="1.5"/>
<line x1="1787" y1="262.1" x2="1787" y2="284.4" stroke="#000" stroke-width="1.6"/>
<line x1="1784" y1="262.1" x2="1790" y2="262.1" stroke="#000" stroke-width="1.5"/>
<line x1="1784" y1="284.4" x2="1790" y2="284.4" stroke="#000" stroke-width="1.5"/>
<line x1="1839.6" y1="218.9" x2="1839.6" y2="248.4" stroke="#000" stroke-width="1.6"/>
<line x1="1836.6" y1="218.9" x2="1842.6" y2="218.9" stroke="#000" stroke-width="1.5"/>
<line x1="1836.6" y1="248.4" x2="1842.6" y2="248.4" stroke="#000" stroke-width="1.5"/>
<line x1="1892" y1="230.5" x2="1892" y2="251.2" stroke="#000" stroke-width="1.6"/>
<line x1="1889" y1="230.5" x2="1895" y2="230.5" stroke="#000" stroke-width="1.5"/>
<line x1="1889" y1="251.2" x2="1895" y2="251.2" stroke="#000" stroke-width="1.5"/>
<line x1="1944" y1="154.1" x2="1944" y2="187" stroke="#000" stroke-width="1.6"/>
<line x1="1941" y1="154.1" x2="1947" y2="154.1" stroke="#000" stroke-width="1.5"/>
<line x1="1941" y1="187" x2="1947" y2="187" stroke="#000" stroke-width="1.5"/>
<text x="1750" y="140.5" font-size="19.6" text-anchor="end">25</text>
<text x="1750" y="176.88" font-size="19.6" text-anchor="end">20</text>
<text x="1750" y="213.26" font-size="19.6" text-anchor="end">15</text>
<text x="1750" y="249.64" font-size="19.6" text-anchor="end">10</text>
<text x="1750" y="286.02" font-size="19.6" text-anchor="end">5</text>
<text x="1750" y="322.4" font-size="19.6" text-anchor="end">0</text>
<text x="1713.5" y="223.3" font-size="20.3" text-anchor="middle" transform="rotate(-90 1713.5 223.3)">Nrf2 positive cell (%)</text>
<line x1="1788.1" y1="213.7" x2="1841.2" y2="213.7" stroke="#000" stroke-width="2"/>
<text x="1816" y="214.6" font-size="28.5" text-anchor="middle">**</text>
<line x1="1890.6" y1="162.7" x2="1939.6" y2="162.7" stroke="#000" stroke-width="2"/>
<text x="1913.8" y="166.3" font-size="28.5" text-anchor="middle">***</text>
<rect x="1881.3" y="93" width="18" height="13.8" fill="#a6a6a6"/>
<rect x="1881.3" y="112.9" width="18" height="13.6" fill="#c00000"/>
<text x="1904.1" y="106.1" font-size="17.3">Control</text>
<text x="1904.1" y="126.6" font-size="17.3">ME7</text>
<line x1="1771.2" y1="325.9" x2="1855.7" y2="325.9" stroke="#000" stroke-width="1.8"/>
<line x1="1875.4" y1="325.9" x2="1959.3" y2="325.9" stroke="#000" stroke-width="1.8"/>
<text x="1816.7" y="348.9" font-size="20.2" text-anchor="middle">LSK</text>
<text x="1921" y="348.9" font-size="20.2" text-anchor="middle">HSC</text>
<text x="0.6" y="493.3" font-size="68">C</text>
<rect x="62.6" y="516" width="301.4" height="142" fill="#fff"/>
<g clip-path="url(#c_C00)">
<clipPath id="c_C00"><rect x="62.6" y="516" width="301.4" height="143"/></clipPath>
<path d="M62.76 657.4L62.76 657.33L123.69 657.33L126.76 656.26L127.99 650.12L129.06 619.43L130.14 573.39L131.06 535.02L131.82 525.81L133.66 522.44L134.43 530.42L135.2 558.04L136.73 596.41L138.27 627.1L139.8 643.98L141.34 650.12L142.87 652.42L144.41 655.49L149.01 657.03L159.75 656.26L165.13 655.8L170.5 656.72L182.77 657.03L184.31 657.33L363.56 657.33L363.56 657.4Z" fill="#7f7f7f" stroke="#7f7f7f" stroke-width="0.5" stroke-linejoin="round"/>
</g>
<rect x="62.6" y="516" width="301.4" height="142" fill="none" stroke="#6e6e6e" stroke-width="1.2"/>
<path d="M62.6 653.04h-2.3M62.6 648.08h-2.3M62.6 643.12h-2.3M62.6 638.16h-2.3M62.6 628.24h-2.3M62.6 623.28h-2.3M62.6 618.32h-2.3M62.6 613.36h-2.3M62.6 603.44h-2.3M62.6 598.48h-2.3M62.6 593.52h-2.3M62.6 588.56h-2.3M62.6 578.64h-2.3M62.6 573.68h-2.3M62.6 568.72h-2.3M62.6 563.76h-2.3M62.6 553.84h-2.3M62.6 548.88h-2.3M62.6 543.92h-2.3M62.6 538.96h-2.3M62.6 529.04h-2.3M62.6 524.08h-2.3M62.6 519.12h-2.3" fill="none" stroke="#2a2a2a" stroke-width="0.8"/>
<path d="M62.6 534h-5.2M62.6 558.8h-5.2M62.6 583.6h-5.2M62.6 608.4h-5.2M62.6 633.2h-5.2M62.6 658h-5.2" fill="none" stroke="#000" stroke-width="1.2"/>
<path d="M75.5 658v4.4M182.2 658v4.4M265.1 658v4.4M334.7 658v4.4M207.16 658v2.3M221.75 658v2.3M232.11 658v2.3M240.14 658v2.3M246.71 658v2.3M252.26 658v2.3M257.07 658v2.3M261.31 658v2.3M286.05 658v2.3M298.31 658v2.3M307 658v2.3M313.75 658v2.3M319.26 658v2.3M323.92 658v2.3M327.96 658v2.3M331.52 658v2.3M355.65 658v2.3M134.68 658v2.3M124.01 658v2.3M139.96 658v2.3M118.62 658v2.3M145.24 658v2.3M113.23 658v2.3M150.52 658v2.3M107.84 658v2.3M155.8 658v2.3M102.45 658v2.3M161.08 658v2.3M97.06 658v2.3M166.36 658v2.3M91.67 658v2.3M171.64 658v2.3M86.28 658v2.3M176.92 658v2.3M80.89 658v2.3M63.02 658v2.3" fill="none" stroke="#1a1a1a" stroke-width="0.9"/>
<rect x="122.6" y="658.6" width="13.4" height="1.8" fill="#000"/>
<path d="M123.1 660.2v1.4M126.2 660.2v1.4M129.3 660.2v1.4M132.4 660.2v1.4M135.5 660.2v1.4" fill="none" stroke="#000" stroke-width="1"/>
<rect x="62.6" y="663" width="301.4" height="142" fill="#fff"/>
<g clip-path="url(#c_C10)">
<clipPath id="c_C10"><rect x="62.6" y="663" width="301.4" height="143"/></clipPath>
<path d="M62.76 804.4L62.76 804.56L125.68 804.56L127.07 799.19L128.29 773.1L129.37 727.06L130.29 688.69L131.06 669.97L132.44 669.51L133.66 676.42L134.43 704.04L135.51 742.41L136.73 773.1L137.96 793.05L139.5 800.73L141.34 803.79L145.94 804.26L149.78 803.79L152.08 801.49L153.92 803.49L155.92 802.26L158.22 800.73L160.52 803.03L164.36 802.26L167.43 801.95L169.73 802.57L172.8 802.26L175.1 803.33L179.71 804.1L188.91 804.26L190.14 803.49L191.22 804.56L363.56 804.56L363.56 804.4Z" fill="#a80000" stroke="#a80000" stroke-width="0.5" stroke-linejoin="round"/>
</g>
<rect x="62.6" y="663" width="301.4" height="142" fill="none" stroke="#6e6e6e" stroke-width="1.2"/>
<line x1="62.6" y1="804.9" x2="364" y2="804.9" stroke="#b00000" stroke-width="1.1"/>
<path d="M62.6 799.16h-2.3M62.6 793.32h-2.3M62.6 787.48h-2.3M62.6 781.64h-2.3M62.6 769.96h-2.3M62.6 764.12h-2.3M62.6 758.28h-2.3M62.6 752.44h-2.3M62.6 740.76h-2.3M62.6 734.92h-2.3M62.6 729.08h-2.3M62.6 723.24h-2.3M62.6 711.56h-2.3M62.6 705.72h-2.3M62.6 699.88h-2.3M62.6 694.04h-2.3M62.6 682.36h-2.3M62.6 676.52h-2.3M62.6 670.68h-2.3M62.6 664.84h-2.3" fill="none" stroke="#2a2a2a" stroke-width="0.8"/>
<path d="M62.6 688.2h-5.2M62.6 717.4h-5.2M62.6 746.6h-5.2M62.6 775.8h-5.2M62.6 805h-5.2" fill="none" stroke="#000" stroke-width="1.2"/>
<path d="M75.5 805v4.4M182.2 805v4.4M265.1 805v4.4M334.7 805v4.4M207.16 805v2.3M221.75 805v2.3M232.11 805v2.3M240.14 805v2.3M246.71 805v2.3M252.26 805v2.3M257.07 805v2.3M261.31 805v2.3M286.05 805v2.3M298.31 805v2.3M307 805v2.3M313.75 805v2.3M319.26 805v2.3M323.92 805v2.3M327.96 805v2.3M331.52 805v2.3M355.65 805v2.3M134.68 805v2.3M124.01 805v2.3M139.96 805v2.3M118.62 805v2.3M145.24 805v2.3M113.23 805v2.3M150.52 805v2.3M107.84 805v2.3M155.8 805v2.3M102.45 805v2.3M161.08 805v2.3M97.06 805v2.3M166.36 805v2.3M91.67 805v2.3M171.64 805v2.3M86.28 805v2.3M176.92 805v2.3M80.89 805v2.3M63.02 805v2.3" fill="none" stroke="#1a1a1a" stroke-width="0.9"/>
<rect x="122.6" y="805.6" width="13.4" height="1.8" fill="#000"/>
<path d="M123.1 807.2v1.4M126.2 807.2v1.4M129.3 807.2v1.4M132.4 807.2v1.4M135.5 807.2v1.4" fill="none" stroke="#000" stroke-width="1"/>
<rect x="369.8" y="516" width="301.3" height="142" fill="#fff"/>
<g clip-path="url(#c_C01)">
<clipPath id="c_C01"><rect x="369.8" y="516" width="301.3" height="143"/></clipPath>
<path d="M369.76 657.4L369.76 657.33L433.3 657.33L434.53 651.66L436.06 604.08L437.6 550.37L439.13 530.42L439.9 522.44L440.66 522.44L441.43 558.04L442.66 585.66L444.19 604.08L445.27 627.1L446.5 647.05L447.57 654.73L449.57 651.96L450.95 657.03L452.94 657.03L454.17 654.42L455.24 655.49L456.32 654.73L457.85 657.33L465.22 657.33L467.06 654.73L468.29 655.95L469.82 653.96L471.67 648.28L473.2 657.33L474.89 657.33L476.27 654.42L477.8 657.33L480.57 657.33L482.41 650.12L483.64 657.33L495.15 657.33L496.68 653.96L497.91 657.33L506.35 657.33L508.19 654.42L509.73 657.33L671.33 657.33L671.33 657.4Z" fill="#7f7f7f" stroke="#7f7f7f" stroke-width="0.5" stroke-linejoin="round"/>
</g>
<rect x="369.8" y="516" width="301.3" height="142" fill="none" stroke="#6e6e6e" stroke-width="1.2"/>
<path d="M369.8 653.08h-2.3M369.8 648.16h-2.3M369.8 643.24h-2.3M369.8 638.32h-2.3M369.8 628.48h-2.3M369.8 623.56h-2.3M369.8 618.64h-2.3M369.8 613.72h-2.3M369.8 603.88h-2.3M369.8 598.96h-2.3M369.8 594.04h-2.3M369.8 589.12h-2.3M369.8 579.28h-2.3M369.8 574.36h-2.3M369.8 569.44h-2.3M369.8 564.52h-2.3M369.8 554.68h-2.3M369.8 549.76h-2.3M369.8 544.84h-2.3M369.8 539.92h-2.3M369.8 530.08h-2.3M369.8 525.16h-2.3M369.8 520.24h-2.3" fill="none" stroke="#2a2a2a" stroke-width="0.8"/>
<path d="M369.8 535h-5.2M369.8 559.6h-5.2M369.8 584.2h-5.2M369.8 608.8h-5.2M369.8 633.4h-5.2M369.8 658h-5.2" fill="none" stroke="#000" stroke-width="1.2"/>
<path d="M382.7 658v4.4M489.4 658v4.4M572.3 658v4.4M641.9 658v4.4M514.36 658v2.3M528.95 658v2.3M539.31 658v2.3M547.34 658v2.3M553.91 658v2.3M559.46 658v2.3M564.27 658v2.3M568.51 658v2.3M593.25 658v2.3M605.51 658v2.3M614.2 658v2.3M620.95 658v2.3M626.46 658v2.3M631.12 658v2.3M635.16 658v2.3M638.72 658v2.3M662.85 658v2.3M441.88 658v2.3M431.21 658v2.3M447.16 658v2.3M425.82 658v2.3M452.44 658v2.3M420.43 658v2.3M457.72 658v2.3M415.04 658v2.3M463 658v2.3M409.65 658v2.3M468.28 658v2.3M404.26 658v2.3M473.56 658v2.3M398.87 658v2.3M478.84 658v2.3M393.48 658v2.3M484.12 658v2.3M388.09 658v2.3M370.22 658v2.3" fill="none" stroke="#1a1a1a" stroke-width="0.9"/>
<rect x="429.8" y="658.6" width="13.4" height="1.8" fill="#000"/>
<path d="M430.3 660.2v1.4M433.4 660.2v1.4M436.5 660.2v1.4M439.6 660.2v1.4M442.7 660.2v1.4" fill="none" stroke="#000" stroke-width="1"/>
<rect x="369.8" y="663" width="301.3" height="142" fill="#fff"/>
<g clip-path="url(#c_C11)">
<clipPath id="c_C11"><rect x="369.8" y="663" width="301.3" height="143"/></clipPath>
<path d="M369.76 804.4L369.76 804.56L432.99 804.56L434.53 796.12L435.75 757.75L436.83 719.39L437.9 677.95L439.13 670.28L440.97 669.51L441.43 704.04L442.66 743.94L444.19 751.62L444.96 776.94L446.04 776.94L447.11 793.05L448.34 801.49L449.87 802.26L450.95 804.56L457.24 804.56L458.77 796.58L460 796.58L461.08 804.56L463.69 803.79L465.68 797.35L467.52 803.03L469.36 796.58L470.9 796.58L472.13 803.03L473.97 802.26L475.96 796.12L477.8 796.58L479.03 788.14L480.57 788.14L481.64 802.26L483.64 802.26L485.48 797.66L486.71 797.66L487.78 803.03L489.01 796.58L489.77 796.89L490.85 804.56L494.69 804.56L495.91 799.19L497.45 799.19L498.52 804.56L501.75 804.56L503.59 800.73L505.12 804.56L671.33 804.56L671.33 804.4Z" fill="#a80000" stroke="#a80000" stroke-width="0.5" stroke-linejoin="round"/>
</g>
<rect x="369.8" y="663" width="301.3" height="142" fill="none" stroke="#6e6e6e" stroke-width="1.2"/>
<line x1="369.8" y1="804.9" x2="671.1" y2="804.9" stroke="#b00000" stroke-width="1.1"/>
<path d="M369.8 799.08h-2.3M369.8 793.16h-2.3M369.8 787.24h-2.3M369.8 781.32h-2.3M369.8 769.48h-2.3M369.8 763.56h-2.3M369.8 757.64h-2.3M369.8 751.72h-2.3M369.8 739.88h-2.3M369.8 733.96h-2.3M369.8 728.04h-2.3M369.8 722.12h-2.3M369.8 710.28h-2.3M369.8 704.36h-2.3M369.8 698.44h-2.3M369.8 692.52h-2.3M369.8 680.68h-2.3M369.8 674.76h-2.3M369.8 668.84h-2.3" fill="none" stroke="#2a2a2a" stroke-width="0.8"/>
<path d="M369.8 686.6h-5.2M369.8 716.2h-5.2M369.8 745.8h-5.2M369.8 775.4h-5.2M369.8 805h-5.2" fill="none" stroke="#000" stroke-width="1.2"/>
<path d="M382.7 805v4.4M489.4 805v4.4M572.3 805v4.4M641.9 805v4.4M514.36 805v2.3M528.95 805v2.3M539.31 805v2.3M547.34 805v2.3M553.91 805v2.3M559.46 805v2.3M564.27 805v2.3M568.51 805v2.3M593.25 805v2.3M605.51 805v2.3M614.2 805v2.3M620.95 805v2.3M626.46 805v2.3M631.12 805v2.3M635.16 805v2.3M638.72 805v2.3M662.85 805v2.3M441.88 805v2.3M431.21 805v2.3M447.16 805v2.3M425.82 805v2.3M452.44 805v2.3M420.43 805v2.3M457.72 805v2.3M415.04 805v2.3M463 805v2.3M409.65 805v2.3M468.28 805v2.3M404.26 805v2.3M473.56 805v2.3M398.87 805v2.3M478.84 805v2.3M393.48 805v2.3M484.12 805v2.3M388.09 805v2.3M370.22 805v2.3" fill="none" stroke="#1a1a1a" stroke-width="0.9"/>
<rect x="429.8" y="805.6" width="13.4" height="1.8" fill="#000"/>
<path d="M430.3 807.2v1.4M433.4 807.2v1.4M436.5 807.2v1.4M439.6 807.2v1.4M442.7 807.2v1.4" fill="none" stroke="#000" stroke-width="1"/>
<line x1="150.5" y1="516.5" x2="150.5" y2="808.5" stroke="#00b050" stroke-width="1.9" stroke-dasharray="4.6 2.0"/>
<line x1="462.2" y1="516.5" x2="462.2" y2="808.5" stroke="#00b050" stroke-width="1.9" stroke-dasharray="4.6 2.0"/>
<text x="161.2" y="539.1" font-size="16">3.6%</text>
<text x="161.2" y="688.5" font-size="16">7.9%</text>
<text x="472" y="539.2" font-size="16">4.2%</text>
<text x="472.6" y="688.4" font-size="16">13.9%</text>
<text x="208.4" y="504.9" font-size="20.4" text-anchor="middle">LSK</text>
<text x="515.9" y="505" font-size="20.4" text-anchor="middle">HSC</text>
<line x1="50.7" y1="517.5" x2="50.7" y2="657" stroke="#000" stroke-width="2"/>
<line x1="50.7" y1="666.3" x2="50.7" y2="806" stroke="#000" stroke-width="2"/>
<text x="40.4" y="587.5" font-size="20.4" text-anchor="middle" transform="rotate(-90 40.4 587.5)">Control</text>
<text x="40.4" y="731.7" font-size="20.4" text-anchor="middle" transform="rotate(-90 40.4 731.7)">ME7</text>
<text x="77.1" y="822" font-size="6.2" text-anchor="middle" class="n" font-weight="normal" fill="#111">-10<tspan dy="-3.1" dx="0.6" font-size="5">3</tspan></text>
<text x="129.6" y="822" font-size="6.2" text-anchor="middle" class="n" font-weight="normal" fill="#111">0</text>
<text x="185.4" y="822" font-size="6.2" text-anchor="middle" class="n" font-weight="normal" fill="#111">10<tspan dy="-3.1" dx="0.6" font-size="5">3</tspan></text>
<text x="268.3" y="822" font-size="6.2" text-anchor="middle" class="n" font-weight="normal" fill="#111">10<tspan dy="-3.1" dx="0.6" font-size="5">4</tspan></text>
<text x="337.9" y="822" font-size="6.2" text-anchor="middle" class="n" font-weight="normal" fill="#111">10<tspan dy="-3.1" dx="0.6" font-size="5">5</tspan></text>
<text x="384.3" y="822" font-size="6.2" text-anchor="middle" class="n" font-weight="normal" fill="#111">-10<tspan dy="-3.1" dx="0.6" font-size="5">3</tspan></text>
<text x="436.8" y="822" font-size="6.2" text-anchor="middle" class="n" font-weight="normal" fill="#111">0</text>
<text x="492.6" y="822" font-size="6.2" text-anchor="middle" class="n" font-weight="normal" fill="#111">10<tspan dy="-3.1" dx="0.6" font-size="5">3</tspan></text>
<text x="575.5" y="822" font-size="6.2" text-anchor="middle" class="n" font-weight="normal" fill="#111">10<tspan dy="-3.1" dx="0.6" font-size="5">4</tspan></text>
<text x="645.1" y="822" font-size="6.2" text-anchor="middle" class="n" font-weight="normal" fill="#111">10<tspan dy="-3.1" dx="0.6" font-size="5">5</tspan></text>
<line x1="63" y1="830.8" x2="672.3" y2="830.8" stroke="#000" stroke-width="1.8"/>
<path d="M665.1 825.9 L673.3 830.8 L665.1 835.7" fill="none" stroke="#000" stroke-width="1.8" stroke-linejoin="miter" stroke-linecap="butt"/>
<text x="72" y="854" font-size="20.2">Annexin V</text>
<line x1="748.9" y1="629" x2="959.3" y2="629" stroke="#a3a3a3" stroke-width="1.2" stroke-dasharray="2.9 2.1"/>
<line x1="748.9" y1="665.3" x2="959.3" y2="665.3" stroke="#a3a3a3" stroke-width="1.2" stroke-dasharray="2.9 2.1"/>
<line x1="748.9" y1="702.1" x2="959.3" y2="702.1" stroke="#a3a3a3" stroke-width="1.2" stroke-dasharray="2.9 2.1"/>
<line x1="748.9" y1="738.9" x2="959.3" y2="738.9" stroke="#a3a3a3" stroke-width="1.2" stroke-dasharray="2.9 2.1"/>
<rect x="757.3" y="747.7" width="35.3" height="27.9" fill="#bfbfbf"/>
<rect x="810.2" y="718.5" width="35" height="57.1" fill="#c00000"/>
<rect x="862.5" y="737.9" width="35" height="37.7" fill="#bfbfbf"/>
<rect x="914.9" y="641.7" width="35.5" height="133.9" fill="#c00000"/>
<rect x="748.9" y="592.8" width="210.4" height="182.8" fill="none" stroke="#000" stroke-width="1.5"/>
<line x1="775" y1="741.5" x2="775" y2="754" stroke="#000" stroke-width="1.6"/>
<line x1="772" y1="741.5" x2="778" y2="741.5" stroke="#000" stroke-width="1.5"/>
<line x1="772" y1="754" x2="778" y2="754" stroke="#000" stroke-width="1.5"/>
<line x1="827.8" y1="705" x2="827.8" y2="732.2" stroke="#000" stroke-width="1.6"/>
<line x1="824.8" y1="705" x2="830.8" y2="705" stroke="#000" stroke-width="1.5"/>
<line x1="824.8" y1="732.2" x2="830.8" y2="732.2" stroke="#000" stroke-width="1.5"/>
<line x1="880.4" y1="730.6" x2="880.4" y2="744.6" stroke="#000" stroke-width="1.6"/>
<line x1="877.4" y1="730.6" x2="883.4" y2="730.6" stroke="#000" stroke-width="1.5"/>
<line x1="877.4" y1="744.6" x2="883.4" y2="744.6" stroke="#000" stroke-width="1.5"/>
<line x1="933" y1="620.5" x2="933" y2="662.7" stroke="#000" stroke-width="1.6"/>
<line x1="930" y1="620.5" x2="936" y2="620.5" stroke="#000" stroke-width="1.5"/>
<line x1="930" y1="662.7" x2="936" y2="662.7" stroke="#000" stroke-width="1.5"/>
<text x="737.9" y="599.5" font-size="19.6" text-anchor="end">20</text>
<text x="737.9" y="636.16" font-size="19.6" text-anchor="end">16</text>
<text x="737.9" y="672.82" font-size="19.6" text-anchor="end">12</text>
<text x="737.9" y="709.48" font-size="19.6" text-anchor="end">8</text>
<text x="737.9" y="746.14" font-size="19.6" text-anchor="end">4</text>
<text x="737.9" y="782.8" font-size="19.6" text-anchor="end">0</text>
<text x="704.8" y="682" font-size="20.3" text-anchor="middle" transform="rotate(-90 704.8 682)">Annexin V positive cell (%)</text>
<line x1="773.8" y1="696.5" x2="827" y2="696.5" stroke="#000" stroke-width="2"/>
<text x="801.6" y="697.6" font-size="28.5" text-anchor="middle">**</text>
<line x1="881.2" y1="615.9" x2="934.5" y2="615.9" stroke="#000" stroke-width="2"/>
<text x="911.2" y="619.4" font-size="28.5" text-anchor="middle">***</text>
<rect x="870" y="549" width="17.5" height="13.7" fill="#a6a6a6"/>
<rect x="870" y="569" width="17.5" height="13.6" fill="#c00000"/>
<text x="892.6" y="562.2" font-size="17.3">Control</text>
<text x="892.6" y="582.9" font-size="17.3">ME7</text>
<line x1="758.6" y1="783.5" x2="842.3" y2="783.5" stroke="#000" stroke-width="1.8"/>
<line x1="862.3" y1="783.5" x2="946.5" y2="783.5" stroke="#000" stroke-width="1.8"/>
<text x="803.5" y="806.6" font-size="20.2" text-anchor="middle">LSK</text>
<text x="908" y="806.6" font-size="20.2" text-anchor="middle">HSC</text>
<text x="1008.4" y="493.4" font-size="68">D</text>
<rect x="1075.8" y="513.4" width="301" height="141.8" fill="#fff"/>
<g clip-path="url(#c_D00)">
<clipPath id="c_D00"><rect x="1075.8" y="513.4" width="301" height="142.8"/></clipPath>
<path d="M1075.76 654.6L1075.76 655.02L1117.51 655.02L1122.11 653.79L1124.41 649.96L1126.71 644.59L1129.02 638.45L1131.01 630.77L1132.09 607.75L1133.62 592.41L1135.15 569.39L1136.69 546.37L1138.22 530.25L1139.76 529.49L1140.83 520.28L1142.37 519.97L1143.29 538.69L1144.82 561.71L1146.36 577.06L1147.89 590.87L1149.73 595.48L1150.96 606.22L1152.5 618.5L1153.88 621.57L1155.11 635.38L1156.64 644.59L1158.17 649.19L1160.48 651.49L1162.01 653.79L1168.15 654.56L1171.22 653.49L1173.52 654.26L1176.59 653.03L1178.89 653.79L1183.5 652.26L1186.57 651.49L1190.4 651.19L1194.24 652.26L1197.31 652.72L1200.38 653.79L1202.68 655.02L1376.1 655.02L1376.1 654.6Z" fill="#7f7f7f" stroke="#7f7f7f" stroke-width="0.5" stroke-linejoin="round"/>
</g>
<rect x="1075.8" y="513.4" width="301" height="141.8" fill="none" stroke="#6e6e6e" stroke-width="1.2"/>
<path d="M1075.8 650h-2.3M1075.8 644.8h-2.3M1075.8 639.6h-2.3M1075.8 634.4h-2.3M1075.8 624h-2.3M1075.8 618.8h-2.3M1075.8 613.6h-2.3M1075.8 608.4h-2.3M1075.8 598h-2.3M1075.8 592.8h-2.3M1075.8 587.6h-2.3M1075.8 582.4h-2.3M1075.8 572h-2.3M1075.8 566.8h-2.3M1075.8 561.6h-2.3M1075.8 556.4h-2.3M1075.8 546h-2.3M1075.8 540.8h-2.3M1075.8 535.6h-2.3M1075.8 530.4h-2.3M1075.8 520h-2.3M1075.8 514.8h-2.3" fill="none" stroke="#2a2a2a" stroke-width="0.8"/>
<path d="M1075.8 525.2h-5.2M1075.8 551.2h-5.2M1075.8 577.2h-5.2M1075.8 603.2h-5.2M1075.8 629.2h-5.2M1075.8 655.2h-5.2" fill="none" stroke="#000" stroke-width="1.2"/>
<path d="M1088.7 655.2v4.4M1195.4 655.2v4.4M1278.3 655.2v4.4M1347.9 655.2v4.4M1220.36 655.2v2.3M1234.95 655.2v2.3M1245.31 655.2v2.3M1253.34 655.2v2.3M1259.91 655.2v2.3M1265.46 655.2v2.3M1270.27 655.2v2.3M1274.51 655.2v2.3M1299.25 655.2v2.3M1311.51 655.2v2.3M1320.2 655.2v2.3M1326.95 655.2v2.3M1332.46 655.2v2.3M1337.12 655.2v2.3M1341.16 655.2v2.3M1344.72 655.2v2.3M1368.85 655.2v2.3M1147.88 655.2v2.3M1137.21 655.2v2.3M1153.16 655.2v2.3M1131.82 655.2v2.3M1158.44 655.2v2.3M1126.43 655.2v2.3M1163.72 655.2v2.3M1121.04 655.2v2.3M1169 655.2v2.3M1115.65 655.2v2.3M1174.28 655.2v2.3M1110.26 655.2v2.3M1179.56 655.2v2.3M1104.87 655.2v2.3M1184.84 655.2v2.3M1099.48 655.2v2.3M1190.12 655.2v2.3M1094.09 655.2v2.3M1076.22 655.2v2.3" fill="none" stroke="#1a1a1a" stroke-width="0.9"/>
<rect x="1135.8" y="655.8" width="13.4" height="1.8" fill="#000"/>
<path d="M1136.3 657.4v1.4M1139.4 657.4v1.4M1142.5 657.4v1.4M1145.6 657.4v1.4M1148.7 657.4v1.4" fill="none" stroke="#000" stroke-width="1"/>
<rect x="1075.8" y="659.6" width="301" height="141.9" fill="#fff"/>
<g clip-path="url(#c_D10)">
<clipPath id="c_D10"><rect x="1075.8" y="659.6" width="301" height="142.9"/></clipPath>
<path d="M1075.76 800.9L1075.76 801.33L1117.51 801.33L1119.5 799.03L1121.34 801.02L1123.64 800.56L1125.18 797.49L1127.48 795.19L1129.02 791.35L1130.55 789.82L1132.09 776.77L1133.62 761.43L1135.15 738.41L1136.69 707.71L1138.22 684.69L1138.99 671.65L1140.53 671.19L1141.29 666.28L1143.6 665.97L1144.36 684.69L1145.9 715.39L1147.43 746.08L1148.97 767.57L1150.5 761.43L1151.73 761.12L1153.11 773.71L1155.11 785.22L1156.18 785.22L1157.1 790.59L1158.17 790.59L1159.71 796.73L1161.7 794.42L1163.55 797.49L1165.85 800.56L1168.92 801.02L1171.22 799.03L1173.52 799.79L1176.59 798.26L1178.89 795.96L1183.5 796.73L1188.1 796.42L1191.17 795.96L1192.4 793.35L1195.77 793.35L1196.54 796.73L1198.84 798.26L1200.38 797.03L1202.68 797.03L1203.76 799.79L1205.75 799.79L1207.28 798.26L1208.36 801.33L1376.1 801.33L1376.1 800.9Z" fill="#a80000" stroke="#a80000" stroke-width="0.5" stroke-linejoin="round"/>
</g>
<rect x="1075.8" y="659.6" width="301" height="141.9" fill="none" stroke="#6e6e6e" stroke-width="1.2"/>
<line x1="1075.8" y1="801.4" x2="1376.8" y2="801.4" stroke="#b00000" stroke-width="1.1"/>
<path d="M1075.8 795.7h-2.3M1075.8 789.9h-2.3M1075.8 784.1h-2.3M1075.8 778.3h-2.3M1075.8 766.7h-2.3M1075.8 760.9h-2.3M1075.8 755.1h-2.3M1075.8 749.3h-2.3M1075.8 737.7h-2.3M1075.8 731.9h-2.3M1075.8 726.1h-2.3M1075.8 720.3h-2.3M1075.8 708.7h-2.3M1075.8 702.9h-2.3M1075.8 697.1h-2.3M1075.8 691.3h-2.3M1075.8 679.7h-2.3M1075.8 673.9h-2.3M1075.8 668.1h-2.3M1075.8 662.3h-2.3" fill="none" stroke="#2a2a2a" stroke-width="0.8"/>
<path d="M1075.8 685.5h-5.2M1075.8 714.5h-5.2M1075.8 743.5h-5.2M1075.8 772.5h-5.2M1075.8 801.5h-5.2" fill="none" stroke="#000" stroke-width="1.2"/>
<path d="M1088.7 801.5v4.4M1195.4 801.5v4.4M1278.3 801.5v4.4M1347.9 801.5v4.4M1220.36 801.5v2.3M1234.95 801.5v2.3M1245.31 801.5v2.3M1253.34 801.5v2.3M1259.91 801.5v2.3M1265.46 801.5v2.3M1270.27 801.5v2.3M1274.51 801.5v2.3M1299.25 801.5v2.3M1311.51 801.5v2.3M1320.2 801.5v2.3M1326.95 801.5v2.3M1332.46 801.5v2.3M1337.12 801.5v2.3M1341.16 801.5v2.3M1344.72 801.5v2.3M1368.85 801.5v2.3M1147.88 801.5v2.3M1137.21 801.5v2.3M1153.16 801.5v2.3M1131.82 801.5v2.3M1158.44 801.5v2.3M1126.43 801.5v2.3M1163.72 801.5v2.3M1121.04 801.5v2.3M1169 801.5v2.3M1115.65 801.5v2.3M1174.28 801.5v2.3M1110.26 801.5v2.3M1179.56 801.5v2.3M1104.87 801.5v2.3M1184.84 801.5v2.3M1099.48 801.5v2.3M1190.12 801.5v2.3M1094.09 801.5v2.3M1076.22 801.5v2.3" fill="none" stroke="#1a1a1a" stroke-width="0.9"/>
<rect x="1135.8" y="802.1" width="13.4" height="1.8" fill="#000"/>
<path d="M1136.3 803.7v1.4M1139.4 803.7v1.4M1142.5 803.7v1.4M1145.6 803.7v1.4M1148.7 803.7v1.4" fill="none" stroke="#000" stroke-width="1"/>
<rect x="1381.3" y="513.4" width="302" height="141.8" fill="#fff"/>
<g clip-path="url(#c_D01)">
<clipPath id="c_D01"><rect x="1381.3" y="513.4" width="302" height="142.8"/></clipPath>
<path d="M1381.3 654.6L1381.3 655.02L1422.28 655.02L1423.81 649.96L1425.04 655.02L1428.42 655.02L1429.95 633.84L1431.49 633.08L1433.02 627.71L1434.56 607.75L1435.78 606.99L1436.55 613.89L1438.09 580.13L1439.62 579.36L1440.85 552.51L1441.92 552.2L1442.38 566.32L1444.22 520.58L1445.3 520.28L1446.53 546.37L1447.75 552.51L1448.83 552.51L1449.9 587.8L1450.82 606.22L1452.66 606.99L1453.43 616.96L1454.51 617.73L1455.73 646.12L1456.5 653.03L1458.04 652.26L1459.11 647.66L1460.03 651.49L1461.41 644.59L1462.33 644.59L1463.1 653.79L1464.17 653.03L1465.25 648.42L1466.78 655.02L1473.84 655.02L1475.38 649.96L1476.61 655.02L1479.52 655.02L1480.75 649.96L1481.82 650.42L1483.05 655.02L1492.57 655.02L1494.87 644.59L1495.94 644.59L1496.86 650.73L1497.94 648.42L1499.47 649.96L1500.7 639.22L1501.77 639.22L1503 655.02L1507.15 655.02L1508.68 649.96L1509.91 655.02L1682.87 655.02L1682.87 654.6Z" fill="#7f7f7f" stroke="#7f7f7f" stroke-width="0.5" stroke-linejoin="round"/>
</g>
<rect x="1381.3" y="513.4" width="302" height="141.8" fill="none" stroke="#6e6e6e" stroke-width="1.2"/>
<path d="M1381.3 649.52h-2.3M1381.3 643.84h-2.3M1381.3 638.16h-2.3M1381.3 632.48h-2.3M1381.3 621.12h-2.3M1381.3 615.44h-2.3M1381.3 609.76h-2.3M1381.3 604.08h-2.3M1381.3 592.72h-2.3M1381.3 587.04h-2.3M1381.3 581.36h-2.3M1381.3 575.68h-2.3M1381.3 564.32h-2.3M1381.3 558.64h-2.3M1381.3 552.96h-2.3M1381.3 547.28h-2.3M1381.3 535.92h-2.3M1381.3 530.24h-2.3M1381.3 524.56h-2.3M1381.3 518.88h-2.3" fill="none" stroke="#2a2a2a" stroke-width="0.8"/>
<path d="M1381.3 541.6h-5.2M1381.3 570h-5.2M1381.3 598.4h-5.2M1381.3 626.8h-5.2M1381.3 655.2h-5.2" fill="none" stroke="#000" stroke-width="1.2"/>
<path d="M1394.2 655.2v4.4M1500.9 655.2v4.4M1583.8 655.2v4.4M1653.4 655.2v4.4M1525.86 655.2v2.3M1540.45 655.2v2.3M1550.81 655.2v2.3M1558.84 655.2v2.3M1565.41 655.2v2.3M1570.96 655.2v2.3M1575.77 655.2v2.3M1580.01 655.2v2.3M1604.75 655.2v2.3M1617.01 655.2v2.3M1625.7 655.2v2.3M1632.45 655.2v2.3M1637.96 655.2v2.3M1642.62 655.2v2.3M1646.66 655.2v2.3M1650.22 655.2v2.3M1674.35 655.2v2.3M1453.38 655.2v2.3M1442.71 655.2v2.3M1458.66 655.2v2.3M1437.32 655.2v2.3M1463.94 655.2v2.3M1431.93 655.2v2.3M1469.22 655.2v2.3M1426.54 655.2v2.3M1474.5 655.2v2.3M1421.15 655.2v2.3M1479.78 655.2v2.3M1415.76 655.2v2.3M1485.06 655.2v2.3M1410.37 655.2v2.3M1490.34 655.2v2.3M1404.98 655.2v2.3M1495.62 655.2v2.3M1399.59 655.2v2.3M1381.72 655.2v2.3" fill="none" stroke="#1a1a1a" stroke-width="0.9"/>
<rect x="1441.3" y="655.8" width="13.4" height="1.8" fill="#000"/>
<path d="M1441.8 657.4v1.4M1444.9 657.4v1.4M1448 657.4v1.4M1451.1 657.4v1.4M1454.2 657.4v1.4" fill="none" stroke="#000" stroke-width="1"/>
<rect x="1381.3" y="659.6" width="302" height="141.9" fill="#fff"/>
<g clip-path="url(#c_D11)">
<clipPath id="c_D11"><rect x="1381.3" y="659.6" width="302" height="142.9"/></clipPath>
<path d="M1381.3 800.9L1381.3 801.33L1429.95 801.33L1432.41 786.29L1433.48 785.98L1434.71 777.54L1435.78 777.54L1437.32 790.59L1438.85 772.17L1440.39 761.43L1441.92 729.97L1443 729.2L1445.3 667.04L1448.06 666.58L1449.6 698.51L1451.44 698.51L1452.36 746.08L1453.89 785.98L1456.19 785.98L1457.58 793.66L1458.8 801.33L1464.17 801.33L1465.71 797.49L1466.78 797.49L1468.01 801.33L1469.24 801.33L1470.62 793.66L1473.38 793.66L1474.92 801.33L1479.52 801.33L1480.6 793.66L1481.82 793.66L1482.9 801.33L1484.59 801.33L1486.43 785.98L1487.66 785.98L1489.19 794.42L1491.03 785.98L1492.57 785.98L1494.1 801.33L1495.18 801.33L1496.4 793.66L1498.71 793.66L1500.7 770.18L1501.77 770.18L1503.31 785.98L1505.15 785.98L1506.69 793.66L1507.91 793.66L1509.45 801.33L1682.87 801.33L1682.87 800.9Z" fill="#a80000" stroke="#a80000" stroke-width="0.5" stroke-linejoin="round"/>
</g>
<rect x="1381.3" y="659.6" width="302" height="141.9" fill="none" stroke="#6e6e6e" stroke-width="1.2"/>
<line x1="1381.3" y1="801.4" x2="1683.3" y2="801.4" stroke="#b00000" stroke-width="1.1"/>
<path d="M1381.3 793.2h-2.3M1381.3 784.9h-2.3M1381.3 776.6h-2.3M1381.3 768.3h-2.3M1381.3 751.7h-2.3M1381.3 743.4h-2.3M1381.3 735.1h-2.3M1381.3 726.8h-2.3M1381.3 710.2h-2.3M1381.3 701.9h-2.3M1381.3 693.6h-2.3M1381.3 685.3h-2.3M1381.3 668.7h-2.3" fill="none" stroke="#2a2a2a" stroke-width="0.8"/>
<path d="M1381.3 677h-5.2M1381.3 718.5h-5.2M1381.3 760h-5.2M1381.3 801.5h-5.2" fill="none" stroke="#000" stroke-width="1.2"/>
<path d="M1394.2 801.5v4.4M1500.9 801.5v4.4M1583.8 801.5v4.4M1653.4 801.5v4.4M1525.86 801.5v2.3M1540.45 801.5v2.3M1550.81 801.5v2.3M1558.84 801.5v2.3M1565.41 801.5v2.3M1570.96 801.5v2.3M1575.77 801.5v2.3M1580.01 801.5v2.3M1604.75 801.5v2.3M1617.01 801.5v2.3M1625.7 801.5v2.3M1632.45 801.5v2.3M1637.96 801.5v2.3M1642.62 801.5v2.3M1646.66 801.5v2.3M1650.22 801.5v2.3M1674.35 801.5v2.3M1453.38 801.5v2.3M1442.71 801.5v2.3M1458.66 801.5v2.3M1437.32 801.5v2.3M1463.94 801.5v2.3M1431.93 801.5v2.3M1469.22 801.5v2.3M1426.54 801.5v2.3M1474.5 801.5v2.3M1421.15 801.5v2.3M1479.78 801.5v2.3M1415.76 801.5v2.3M1485.06 801.5v2.3M1410.37 801.5v2.3M1490.34 801.5v2.3M1404.98 801.5v2.3M1495.62 801.5v2.3M1399.59 801.5v2.3M1381.72 801.5v2.3" fill="none" stroke="#1a1a1a" stroke-width="0.9"/>
<rect x="1441.3" y="802.1" width="13.4" height="1.8" fill="#000"/>
<path d="M1441.8 803.7v1.4M1444.9 803.7v1.4M1448 803.7v1.4M1451.1 803.7v1.4M1454.2 803.7v1.4" fill="none" stroke="#000" stroke-width="1"/>
<line x1="1167.8" y1="513.9" x2="1167.8" y2="805" stroke="#00b050" stroke-width="1.9" stroke-dasharray="4.6 2.0"/>
<line x1="1466.1" y1="513.9" x2="1466.1" y2="805" stroke="#00b050" stroke-width="1.9" stroke-dasharray="4.6 2.0"/>
<text x="1180" y="535.9" font-size="16">3.1%</text>
<text x="1180" y="685.1" font-size="16">7.9%</text>
<text x="1476.8" y="535.6" font-size="16">4.1%</text>
<text x="1477.4" y="685" font-size="16">12.1%</text>
<text x="1220.5" y="504.3" font-size="20.4" text-anchor="middle">LSK</text>
<text x="1528.5" y="503.9" font-size="20.4" text-anchor="middle">HSC</text>
<line x1="1063.3" y1="514" x2="1063.3" y2="653.9" stroke="#000" stroke-width="2"/>
<line x1="1063.3" y1="662.6" x2="1063.3" y2="802.2" stroke="#000" stroke-width="2"/>
<text x="1053.2" y="583.6" font-size="20.4" text-anchor="middle" transform="rotate(-90 1053.2 583.6)">Control</text>
<text x="1053.2" y="728.4" font-size="20.4" text-anchor="middle" transform="rotate(-90 1053.2 728.4)" word-spacing="-1.6">ME 7</text>
<text x="1090.3" y="818.8" font-size="6.2" text-anchor="middle" class="n" font-weight="normal" fill="#111">-10<tspan dy="-3.1" dx="0.6" font-size="5">3</tspan></text>
<text x="1142.8" y="818.8" font-size="6.2" text-anchor="middle" class="n" font-weight="normal" fill="#111">0</text>
<text x="1198.6" y="818.8" font-size="6.2" text-anchor="middle" class="n" font-weight="normal" fill="#111">10<tspan dy="-3.1" dx="0.6" font-size="5">3</tspan></text>
<text x="1281.5" y="818.8" font-size="6.2" text-anchor="middle" class="n" font-weight="normal" fill="#111">10<tspan dy="-3.1" dx="0.6" font-size="5">4</tspan></text>
<text x="1351.1" y="818.8" font-size="6.2" text-anchor="middle" class="n" font-weight="normal" fill="#111">10<tspan dy="-3.1" dx="0.6" font-size="5">5</tspan></text>
<text x="1395.8" y="818.8" font-size="6.2" text-anchor="middle" class="n" font-weight="normal" fill="#111">-10<tspan dy="-3.1" dx="0.6" font-size="5">3</tspan></text>
<text x="1448.3" y="818.8" font-size="6.2" text-anchor="middle" class="n" font-weight="normal" fill="#111">0</text>
<text x="1504.1" y="818.8" font-size="6.2" text-anchor="middle" class="n" font-weight="normal" fill="#111">10<tspan dy="-3.1" dx="0.6" font-size="5">3</tspan></text>
<text x="1587" y="818.8" font-size="6.2" text-anchor="middle" class="n" font-weight="normal" fill="#111">10<tspan dy="-3.1" dx="0.6" font-size="5">4</tspan></text>
<text x="1656.6" y="818.8" font-size="6.2" text-anchor="middle" class="n" font-weight="normal" fill="#111">10<tspan dy="-3.1" dx="0.6" font-size="5">5</tspan></text>
<line x1="1075.8" y1="826.3" x2="1684.7" y2="826.3" stroke="#000" stroke-width="1.8"/>
<path d="M1677.5 821.4 L1685.7 826.3 L1677.5 831.2" fill="none" stroke="#000" stroke-width="1.8" stroke-linejoin="miter" stroke-linecap="butt"/>
<text x="1084.5" y="848.8" font-size="20.2">Caspase 3</text>
<line x1="1762.9" y1="598.1" x2="1972.1" y2="598.1" stroke="#a3a3a3" stroke-width="1.2" stroke-dasharray="2.9 2.1"/>
<line x1="1762.9" y1="624.2" x2="1972.1" y2="624.2" stroke="#a3a3a3" stroke-width="1.2" stroke-dasharray="2.9 2.1"/>
<line x1="1762.9" y1="650.4" x2="1972.1" y2="650.4" stroke="#a3a3a3" stroke-width="1.2" stroke-dasharray="2.9 2.1"/>
<line x1="1762.9" y1="676.6" x2="1972.1" y2="676.6" stroke="#a3a3a3" stroke-width="1.2" stroke-dasharray="2.9 2.1"/>
<line x1="1762.9" y1="703" x2="1972.1" y2="703" stroke="#a3a3a3" stroke-width="1.2" stroke-dasharray="2.9 2.1"/>
<line x1="1762.9" y1="728.9" x2="1972.1" y2="728.9" stroke="#a3a3a3" stroke-width="1.2" stroke-dasharray="2.9 2.1"/>
<rect x="1771" y="715.4" width="34.9" height="40.1" fill="#bfbfbf"/>
<rect x="1823.3" y="673.7" width="34.7" height="81.8" fill="#c00000"/>
<rect x="1875.6" y="707.9" width="34.8" height="47.6" fill="#bfbfbf"/>
<rect x="1928" y="604.5" width="34.7" height="151" fill="#c00000"/>
<rect x="1762.9" y="572" width="209.2" height="183.5" fill="none" stroke="#000" stroke-width="1.5"/>
<line x1="1788.8" y1="698.6" x2="1788.8" y2="733.1" stroke="#000" stroke-width="1.6"/>
<line x1="1785.8" y1="698.6" x2="1791.8" y2="698.6" stroke="#000" stroke-width="1.5"/>
<line x1="1785.8" y1="733.1" x2="1791.8" y2="733.1" stroke="#000" stroke-width="1.5"/>
<line x1="1840.9" y1="658.4" x2="1840.9" y2="689" stroke="#000" stroke-width="1.6"/>
<line x1="1837.9" y1="658.4" x2="1843.9" y2="658.4" stroke="#000" stroke-width="1.5"/>
<line x1="1837.9" y1="689" x2="1843.9" y2="689" stroke="#000" stroke-width="1.5"/>
<line x1="1893.3" y1="696" x2="1893.3" y2="719.6" stroke="#000" stroke-width="1.6"/>
<line x1="1890.3" y1="696" x2="1896.3" y2="696" stroke="#000" stroke-width="1.5"/>
<line x1="1890.3" y1="719.6" x2="1896.3" y2="719.6" stroke="#000" stroke-width="1.5"/>
<line x1="1945.4" y1="582.8" x2="1945.4" y2="626.8" stroke="#000" stroke-width="1.6"/>
<line x1="1942.4" y1="582.8" x2="1948.4" y2="582.8" stroke="#000" stroke-width="1.5"/>
<line x1="1942.4" y1="626.8" x2="1948.4" y2="626.8" stroke="#000" stroke-width="1.5"/>
<text x="1750" y="580.1" font-size="19.6" text-anchor="end">14</text>
<text x="1750" y="606.07" font-size="19.6" text-anchor="end">12</text>
<text x="1750" y="632.04" font-size="19.6" text-anchor="end">10</text>
<text x="1750" y="658.01" font-size="19.6" text-anchor="end">8</text>
<text x="1750" y="683.98" font-size="19.6" text-anchor="end">6</text>
<text x="1750" y="709.95" font-size="19.6" text-anchor="end">4</text>
<text x="1750" y="735.92" font-size="19.6" text-anchor="end">2</text>
<text x="1750" y="761.89" font-size="19.6" text-anchor="end">0</text>
<text x="1716" y="663" font-size="20.3" text-anchor="middle" transform="rotate(-90 1716 663)">Capase3 positive cell (%)</text>
<line x1="1786.7" y1="652.9" x2="1840" y2="652.9" stroke="#000" stroke-width="2"/>
<text x="1814.8" y="654.1" font-size="28.5" text-anchor="middle">**</text>
<line x1="1895" y1="594.8" x2="1942.8" y2="594.8" stroke="#000" stroke-width="2"/>
<text x="1919.1" y="598.4" font-size="28.5" text-anchor="middle">***</text>
<rect x="1883.1" y="529.4" width="18" height="13.9" fill="#a6a6a6"/>
<rect x="1883.1" y="549.7" width="18" height="13.8" fill="#c00000"/>
<text x="1905.9" y="542.6" font-size="17.3">Control</text>
<text x="1905.9" y="563.3" font-size="17.3">ME7</text>
<line x1="1771.2" y1="764.4" x2="1855.7" y2="764.4" stroke="#000" stroke-width="1.8"/>
<line x1="1875.4" y1="764.4" x2="1959.3" y2="764.4" stroke="#000" stroke-width="1.8"/>
<text x="1816.7" y="787.5" font-size="20.2" text-anchor="middle">LSK</text>
<text x="1921" y="787.5" font-size="20.2" text-anchor="middle">HSC</text>
<rect x="1376.7" y="513.8" width="5" height="141.2" fill="#fff" stroke="#000" stroke-width="1.1"/>
<line x1="1376.7" y1="655" x2="1381.7" y2="655" stroke="#000" stroke-width="1.1"/>
<line x1="1376.7" y1="626.8" x2="1381.7" y2="626.8" stroke="#000" stroke-width="1.1"/>
<line x1="1376.7" y1="598.6" x2="1381.7" y2="598.6" stroke="#000" stroke-width="1.1"/>
<line x1="1376.7" y1="570.4" x2="1381.7" y2="570.4" stroke="#000" stroke-width="1.1"/>
<line x1="1376.7" y1="542.2" x2="1381.7" y2="542.2" stroke="#000" stroke-width="1.1"/>
<line x1="1376.7" y1="514" x2="1381.7" y2="514" stroke="#000" stroke-width="1.1"/>
<line x1="1379.4" y1="649.36" x2="1381.7" y2="649.36" stroke="#000" stroke-width="0.8"/>
<line x1="1379.4" y1="643.72" x2="1381.7" y2="643.72" stroke="#000" stroke-width="0.8"/>
<line x1="1379.4" y1="638.08" x2="1381.7" y2="638.08" stroke="#000" stroke-width="0.8"/>
<line x1="1379.4" y1="632.44" x2="1381.7" y2="632.44" stroke="#000" stroke-width="0.8"/>
<line x1="1379.4" y1="621.16" x2="1381.7" y2="621.16" stroke="#000" stroke-width="0.8"/>
<line x1="1379.4" y1="615.52" x2="1381.7" y2="615.52" stroke="#000" stroke-width="0.8"/>
<line x1="1379.4" y1="609.88" x2="1381.7" y2="609.88" stroke="#000" stroke-width="0.8"/>
<line x1="1379.4" y1="604.24" x2="1381.7" y2="604.24" stroke="#000" stroke-width="0.8"/>
<line x1="1379.4" y1="592.96" x2="1381.7" y2="592.96" stroke="#000" stroke-width="0.8"/>
<line x1="1379.4" y1="587.32" x2="1381.7" y2="587.32" stroke="#000" stroke-width="0.8"/>
<line x1="1379.4" y1="581.68" x2="1381.7" y2="581.68" stroke="#000" stroke-width="0.8"/>
<line x1="1379.4" y1="576.04" x2="1381.7" y2="576.04" stroke="#000" stroke-width="0.8"/>
<line x1="1379.4" y1="564.76" x2="1381.7" y2="564.76" stroke="#000" stroke-width="0.8"/>
<line x1="1379.4" y1="559.12" x2="1381.7" y2="559.12" stroke="#000" stroke-width="0.8"/>
<line x1="1379.4" y1="553.48" x2="1381.7" y2="553.48" stroke="#000" stroke-width="0.8"/>
<line x1="1379.4" y1="547.84" x2="1381.7" y2="547.84" stroke="#000" stroke-width="0.8"/>
<line x1="1379.4" y1="536.56" x2="1381.7" y2="536.56" stroke="#000" stroke-width="0.8"/>
<line x1="1379.4" y1="530.92" x2="1381.7" y2="530.92" stroke="#000" stroke-width="0.8"/>
<line x1="1379.4" y1="525.28" x2="1381.7" y2="525.28" stroke="#000" stroke-width="0.8"/>
<line x1="1379.4" y1="519.64" x2="1381.7" y2="519.64" stroke="#000" stroke-width="0.8"/>
<text x="1" y="937.6" font-size="68">E</text>
<rect x="60.9" y="968.9" width="305.6" height="145.5" fill="#fff"/>
<clipPath id="c_E10"><rect x="60.9" y="968.9" width="305.6" height="146.5"/></clipPath>
<g clip-path="url(#c_E10)">
<path d="M122.46 1113.8L122.46 1114.09L128.6 1112.1L133.2 1108.26L137.8 1100.59L142.41 1091.38L147.01 1079.1L150.08 1071.43L153.15 1063.75L155.45 1054.55L156.99 1045.34L158.52 1039.97L160.06 1039.97L162.36 1043.8L163.59 1043.5L165.43 1033.06L167.27 1020.78L168.8 1013.88L170.8 1011.27L173.1 1010.81L175.4 1007.74L176.94 1000.83L178.78 997.76L180.47 1000.83L182 1008.51L183.84 1017.71L186.15 1026.92L188.45 1036.13L190.29 1045.34L191.82 1056.08L193.36 1065.29L195.35 1074.5L197.66 1082.17L200.73 1088.31L203.79 1095.98L206.86 1102.12L209.17 1105.19L214.54 1108.26L219.14 1111.33L223.75 1113.32L228.35 1114.09L228.35 1113.8Z" fill="#7f7f7f"/>
<path d="M61.38 1113.8L61.38 1114.09L125.53 1114.09L130.13 1112.56L133.2 1109.03L137.8 1102.12L141.64 1094.45L145.48 1085.24L149.31 1076.03L152.38 1072.2L155.45 1069.13L157.75 1062.22L160.06 1055.31L162.36 1052.7L165.43 1052.24L167.73 1047.64L170.03 1039.2L172.33 1035.82L173.87 1035.52L175.86 1038.43L177.71 1043.8L180.01 1051.48L182.31 1059.15L184.61 1062.99L187.68 1065.29L189.98 1071.43L192.28 1080.64L195.35 1089.84L198.42 1095.98L202.26 1101.05L206.1 1104.42L209.93 1105.96L214.54 1108.26L219.14 1111.33L223.75 1113.32L228.35 1114.09L366.47 1114.09L366.47 1113.8Z" fill="#a40000" fill-opacity="0.4"/>
<path d="M60.9 1113.8L61.38 1114.09L125.53 1114.09L130.13 1112.56L133.2 1109.03L137.8 1102.12L141.64 1094.45L145.48 1085.24L149.31 1076.03L152.38 1072.2L155.45 1069.13L157.75 1062.22L160.06 1055.31L162.36 1052.7L165.43 1052.24L167.73 1047.64L170.03 1039.2L172.33 1035.82L173.87 1035.52L175.86 1038.43L177.71 1043.8L180.01 1051.48L182.31 1059.15L184.61 1062.99L187.68 1065.29L189.98 1071.43L192.28 1080.64L195.35 1089.84L198.42 1095.98L202.26 1101.05L206.1 1104.42L209.93 1105.96L214.54 1108.26L219.14 1111.33L223.75 1113.32L228.35 1114.09L366.47 1114.09L366.5 1113.8" fill="none" stroke="#c00000" stroke-width="1.6" stroke-linejoin="round"/>
</g>
<rect x="60.9" y="968.9" width="305.6" height="145.5" fill="none" stroke="#6e6e6e" stroke-width="1.2"/>
<path d="M60.9 1102.3h-2.3M60.9 1090.2h-2.3M60.9 1078.1h-2.3M60.9 1053.9h-2.3M60.9 1041.8h-2.3M60.9 1029.7h-2.3M60.9 1005.5h-2.3M60.9 993.4h-2.3M60.9 981.3h-2.3" fill="none" stroke="#2a2a2a" stroke-width="0.8"/>
<path d="M60.9 1017.6h-5.2M60.9 1066h-5.2M60.9 1114.4h-5.2" fill="none" stroke="#000" stroke-width="1.2"/>
<path d="M74.8 1114.4v4.4M182.6 1114.4v4.4M265.8 1114.4v4.4M336.3 1114.4v4.4M207.65 1114.4v2.3M222.3 1114.4v2.3M232.69 1114.4v2.3M240.75 1114.4v2.3M247.34 1114.4v2.3M252.91 1114.4v2.3M257.74 1114.4v2.3M261.99 1114.4v2.3M287.02 1114.4v2.3M299.44 1114.4v2.3M308.25 1114.4v2.3M315.08 1114.4v2.3M320.66 1114.4v2.3M325.38 1114.4v2.3M329.47 1114.4v2.3M333.07 1114.4v2.3M357.52 1114.4v2.3M134.09 1114.4v2.3M123.31 1114.4v2.3M139.48 1114.4v2.3M117.92 1114.4v2.3M144.87 1114.4v2.3M112.53 1114.4v2.3M150.26 1114.4v2.3M107.14 1114.4v2.3M155.65 1114.4v2.3M101.75 1114.4v2.3M161.04 1114.4v2.3M96.36 1114.4v2.3M166.43 1114.4v2.3M90.97 1114.4v2.3M171.82 1114.4v2.3M85.58 1114.4v2.3M177.21 1114.4v2.3M80.19 1114.4v2.3M62.28 1114.4v2.3" fill="none" stroke="#1a1a1a" stroke-width="0.9"/>
<rect x="121.9" y="1115" width="13.4" height="1.8" fill="#000"/>
<path d="M122.4 1116.6v1.4M125.5 1116.6v1.4M128.6 1116.6v1.4M131.7 1116.6v1.4M134.8 1116.6v1.4" fill="none" stroke="#000" stroke-width="1"/>
<rect x="60.9" y="1118.7" width="305.6" height="145.6" fill="#fff"/>
<clipPath id="c_E11"><rect x="60.9" y="1118.7" width="305.6" height="146.6"/></clipPath>
<g clip-path="url(#c_E11)">
<path d="M127.06 1263.7L127.06 1264.09L133.2 1261.33L137.8 1256.73L142.41 1249.05L146.24 1241.38L150.08 1235.24L153.15 1227.57L156.22 1218.36L158.52 1211.45L161.59 1206.08L164.66 1199.17L167.73 1191.5L170.03 1189.2L172.33 1188.74L175.4 1191.19L177.71 1189.2L180.01 1185.36L182 1183.52L184.15 1185.36L186.15 1190.73L187.68 1199.94L189.22 1212.22L191.52 1226.03L193.82 1238.31L196.12 1247.52L199.19 1252.89L203.03 1255.96L207.63 1258.26L213 1260.56L219.14 1262.86L225.28 1264.09L255.97 1264.09L262.88 1262.86L270.55 1264.09L270.55 1263.7Z" fill="#7f7f7f"/>
<path d="M61.38 1263.7L61.38 1264.09L128.6 1264.09L133.2 1262.1L137.8 1255.96L141.64 1249.05L145.48 1241.38L149.31 1236.01L153.15 1231.4L156.99 1226.8L160.06 1224.19L163.13 1223.73L165.43 1224.8L167.73 1224.19L170.03 1221.43L172.33 1217.59L174.33 1216.06L176.17 1216.52L178.47 1221.43L180.77 1227.57L183.08 1232.94L186.15 1236.77L189.98 1240.61L193.05 1245.98L196.89 1251.35L201.49 1255.96L206.86 1259.79L213 1262.1L219.14 1263.63L223.75 1264.09L366.47 1264.09L366.47 1263.7Z" fill="#a40000" fill-opacity="0.4"/>
<path d="M60.9 1263.7L61.38 1264.09L128.6 1264.09L133.2 1262.1L137.8 1255.96L141.64 1249.05L145.48 1241.38L149.31 1236.01L153.15 1231.4L156.99 1226.8L160.06 1224.19L163.13 1223.73L165.43 1224.8L167.73 1224.19L170.03 1221.43L172.33 1217.59L174.33 1216.06L176.17 1216.52L178.47 1221.43L180.77 1227.57L183.08 1232.94L186.15 1236.77L189.98 1240.61L193.05 1245.98L196.89 1251.35L201.49 1255.96L206.86 1259.79L213 1262.1L219.14 1263.63L223.75 1264.09L366.47 1264.09L366.5 1263.7" fill="none" stroke="#c00000" stroke-width="1.6" stroke-linejoin="round"/>
</g>
<rect x="60.9" y="1118.7" width="305.6" height="145.6" fill="none" stroke="#6e6e6e" stroke-width="1.2"/>
<path d="M60.9 1255.25h-2.3M60.9 1246.2h-2.3M60.9 1237.15h-2.3M60.9 1219.05h-2.3M60.9 1210h-2.3M60.9 1200.95h-2.3M60.9 1182.85h-2.3M60.9 1173.8h-2.3M60.9 1164.75h-2.3M60.9 1146.65h-2.3M60.9 1137.6h-2.3M60.9 1128.55h-2.3" fill="none" stroke="#2a2a2a" stroke-width="0.8"/>
<path d="M60.9 1155.7h-5.2M60.9 1191.9h-5.2M60.9 1228.1h-5.2M60.9 1264.3h-5.2" fill="none" stroke="#000" stroke-width="1.2"/>
<path d="M74.8 1264.3v4.4M182.6 1264.3v4.4M265.8 1264.3v4.4M336.3 1264.3v4.4M207.65 1264.3v2.3M222.3 1264.3v2.3M232.69 1264.3v2.3M240.75 1264.3v2.3M247.34 1264.3v2.3M252.91 1264.3v2.3M257.74 1264.3v2.3M261.99 1264.3v2.3M287.02 1264.3v2.3M299.44 1264.3v2.3M308.25 1264.3v2.3M315.08 1264.3v2.3M320.66 1264.3v2.3M325.38 1264.3v2.3M329.47 1264.3v2.3M333.07 1264.3v2.3M357.52 1264.3v2.3M134.09 1264.3v2.3M123.31 1264.3v2.3M139.48 1264.3v2.3M117.92 1264.3v2.3M144.87 1264.3v2.3M112.53 1264.3v2.3M150.26 1264.3v2.3M107.14 1264.3v2.3M155.65 1264.3v2.3M101.75 1264.3v2.3M161.04 1264.3v2.3M96.36 1264.3v2.3M166.43 1264.3v2.3M90.97 1264.3v2.3M171.82 1264.3v2.3M85.58 1264.3v2.3M177.21 1264.3v2.3M80.19 1264.3v2.3M62.28 1264.3v2.3" fill="none" stroke="#1a1a1a" stroke-width="0.9"/>
<rect x="121.9" y="1264.9" width="13.4" height="1.8" fill="#000"/>
<path d="M122.4 1266.5v1.4M125.5 1266.5v1.4M128.6 1266.5v1.4M131.7 1266.5v1.4M134.8 1266.5v1.4" fill="none" stroke="#000" stroke-width="1"/>
<line x1="50" y1="971.5" x2="50" y2="1111.5" stroke="#000" stroke-width="2"/>
<line x1="50" y1="1120.4" x2="50" y2="1259.7" stroke="#000" stroke-width="2"/>
<text x="39.5" y="1038.9" font-size="19.6" text-anchor="middle" transform="rotate(-90 39.5 1038.9)">LSK</text>
<text x="39.5" y="1189.5" font-size="19.6" text-anchor="middle" transform="rotate(-90 39.5 1189.5)">HSC</text>
<rect x="275" y="980.4" width="17" height="13.2" fill="#a6a6a6"/>
<rect x="275" y="1000.2" width="17" height="13.2" fill="#c00000" stroke="#c00000" stroke-width="0.8"/>
<text x="298" y="992.2" font-size="16.2">Control</text>
<text x="298" y="1012" font-size="16.2">ME7</text>
<rect x="275" y="1129.6" width="17" height="13.2" fill="#a6a6a6"/>
<rect x="275" y="1150" width="17" height="13.2" fill="#c00000" stroke="#c00000" stroke-width="0.8"/>
<text x="298" y="1141.8" font-size="16.2">Control</text>
<text x="298" y="1162.2" font-size="16.2">ME7</text>
<line x1="62.4" y1="1282.4" x2="365.5" y2="1282.4" stroke="#000" stroke-width="1.8"/>
<path d="M358.3 1277.5 L366.5 1282.4 L358.3 1287.3" fill="none" stroke="#000" stroke-width="1.8" stroke-linejoin="miter" stroke-linecap="butt"/>
<text x="72.6" y="1304.8" font-size="20.2">p-ERK</text>
<line x1="451.6" y1="1053.5" x2="661.2" y2="1053.5" stroke="#a3a3a3" stroke-width="1.2" stroke-dasharray="2.9 2.1"/>
<line x1="451.6" y1="1076.4" x2="661.2" y2="1076.4" stroke="#a3a3a3" stroke-width="1.2" stroke-dasharray="2.9 2.1"/>
<line x1="451.6" y1="1099.4" x2="661.2" y2="1099.4" stroke="#a3a3a3" stroke-width="1.2" stroke-dasharray="2.9 2.1"/>
<line x1="451.6" y1="1122.2" x2="661.2" y2="1122.2" stroke="#a3a3a3" stroke-width="1.2" stroke-dasharray="2.9 2.1"/>
<line x1="451.6" y1="1144.8" x2="661.2" y2="1144.8" stroke="#a3a3a3" stroke-width="1.2" stroke-dasharray="2.9 2.1"/>
<line x1="451.6" y1="1167.8" x2="661.2" y2="1167.8" stroke="#a3a3a3" stroke-width="1.2" stroke-dasharray="2.9 2.1"/>
<line x1="451.6" y1="1190.4" x2="661.2" y2="1190.4" stroke="#a3a3a3" stroke-width="1.2" stroke-dasharray="2.9 2.1"/>
<rect x="460.2" y="1099.4" width="34.7" height="114.2" fill="#bfbfbf"/>
<rect x="512.5" y="1074.8" width="34.5" height="138.8" fill="#c00000"/>
<rect x="564.9" y="1098.9" width="34.7" height="114.7" fill="#bfbfbf"/>
<rect x="617" y="1081.8" width="34.7" height="131.8" fill="#c00000"/>
<rect x="451.6" y="1030.8" width="209.6" height="182.8" fill="none" stroke="#000" stroke-width="1.5"/>
<line x1="477.5" y1="1067.8" x2="477.5" y2="1130.5" stroke="#000" stroke-width="1.6"/>
<line x1="474.5" y1="1067.8" x2="480.5" y2="1067.8" stroke="#000" stroke-width="1.5"/>
<line x1="474.5" y1="1130.5" x2="480.5" y2="1130.5" stroke="#000" stroke-width="1.5"/>
<line x1="529.9" y1="1050.4" x2="529.9" y2="1099.2" stroke="#000" stroke-width="1.6"/>
<line x1="526.9" y1="1050.4" x2="532.9" y2="1050.4" stroke="#000" stroke-width="1.5"/>
<line x1="526.9" y1="1099.2" x2="532.9" y2="1099.2" stroke="#000" stroke-width="1.5"/>
<line x1="582.2" y1="1062.1" x2="582.2" y2="1134.9" stroke="#000" stroke-width="1.6"/>
<line x1="579.2" y1="1062.1" x2="585.2" y2="1062.1" stroke="#000" stroke-width="1.5"/>
<line x1="579.2" y1="1134.9" x2="585.2" y2="1134.9" stroke="#000" stroke-width="1.5"/>
<line x1="634.6" y1="1055.4" x2="634.6" y2="1108.2" stroke="#000" stroke-width="1.6"/>
<line x1="631.6" y1="1055.4" x2="637.6" y2="1055.4" stroke="#000" stroke-width="1.5"/>
<line x1="631.6" y1="1108.2" x2="637.6" y2="1108.2" stroke="#000" stroke-width="1.5"/>
<text x="440.5" y="1038.6" font-size="19.6" text-anchor="end">1.6</text>
<text x="440.5" y="1061.38" font-size="19.6" text-anchor="end">1.4</text>
<text x="440.5" y="1084.16" font-size="19.6" text-anchor="end">1.2</text>
<text x="440.5" y="1106.94" font-size="19.6" text-anchor="end">1.0</text>
<text x="440.5" y="1129.72" font-size="19.6" text-anchor="end">0.8</text>
<text x="440.5" y="1152.5" font-size="19.6" text-anchor="end">0.6</text>
<text x="440.5" y="1175.28" font-size="19.6" text-anchor="end">0.4</text>
<text x="440.5" y="1198.06" font-size="19.6" text-anchor="end">0.2</text>
<text x="440.5" y="1220.84" font-size="19.6" text-anchor="end">0.0</text>
<text x="398.5" y="1121.7" font-size="20.3" text-anchor="middle" transform="rotate(-90 398.5 1121.7)">Fold change (MFI)</text>
<line x1="475" y1="1056.9" x2="527.8" y2="1056.9" stroke="#000" stroke-width="2"/>
<text x="501.7" y="1050.2" font-size="18" text-anchor="middle">ns</text>
<line x1="582" y1="1049.8" x2="634.8" y2="1049.8" stroke="#000" stroke-width="2"/>
<text x="607.7" y="1043.8" font-size="18" text-anchor="middle">ns</text>
<rect x="574.4" y="987" width="17.5" height="13.9" fill="#a6a6a6"/>
<rect x="574.4" y="1007.2" width="17.5" height="13.9" fill="#c00000"/>
<text x="597" y="1000.2" font-size="17.3">Control</text>
<text x="597" y="1020.9" font-size="17.3">ME7</text>
<line x1="462.8" y1="1221.7" x2="546.7" y2="1221.7" stroke="#000" stroke-width="1.8"/>
<line x1="566.4" y1="1221.7" x2="650.6" y2="1221.7" stroke="#000" stroke-width="1.8"/>
<text x="507.5" y="1245" font-size="20.2" text-anchor="middle">LSK</text>
<text x="612.2" y="1245" font-size="20.2" text-anchor="middle">HSC</text>
<rect x="733.9" y="971.8" width="304.9" height="146" fill="#fff"/>
<clipPath id="c_E20"><rect x="733.9" y="971.8" width="304.9" height="147"/></clipPath>
<g clip-path="url(#c_E20)">
<path d="M820.01 1117.2L820.01 1117.09L826.15 1116.17L832.29 1114.33L836.89 1110.49L840.73 1105.89L844.57 1100.52L846.87 1091.31L849.17 1077.5L851.47 1063.69L853.77 1049.87L856.08 1034.53L858.38 1023.78L861.45 1014.58L863.75 1003.83L866.05 988.49L868.35 980.81L869.89 986.95L872.19 999.23L874.49 1013.04L876.79 1031.46L879.1 1046.8L881.4 1062.15L883.7 1074.43L886 1085.17L888.31 1094.38L890.61 1103.59L893.68 1109.73L897.51 1114.02L902.88 1115.86L909.02 1116.63L916.7 1117.09L916.7 1117.2Z" fill="#7f7f7f"/>
<path d="M734.07 1117.2L734.07 1117.09L823.08 1117.09L829.22 1116.17L835.36 1114.64L839.96 1112.03L844.57 1107.42L848.4 1100.52L851.47 1091.31L854.54 1081.33L857.61 1075.2L861.45 1068.29L864.52 1059.85L866.82 1056.01L869.12 1053.71L871.42 1052.48L872.96 1054.48L874.49 1059.85L877.56 1066.75L879.86 1075.96L882.17 1085.17L884.47 1094.38L887.54 1104.35L890.61 1110.49L894.44 1114.02L899.82 1115.86L907.49 1116.17L916.7 1117.09L1038.7 1117.09L1038.7 1117.2Z" fill="#a40000" fill-opacity="0.4"/>
<path d="M733.9 1117.2L734.07 1117.09L823.08 1117.09L829.22 1116.17L835.36 1114.64L839.96 1112.03L844.57 1107.42L848.4 1100.52L851.47 1091.31L854.54 1081.33L857.61 1075.2L861.45 1068.29L864.52 1059.85L866.82 1056.01L869.12 1053.71L871.42 1052.48L872.96 1054.48L874.49 1059.85L877.56 1066.75L879.86 1075.96L882.17 1085.17L884.47 1094.38L887.54 1104.35L890.61 1110.49L894.44 1114.02L899.82 1115.86L907.49 1116.17L916.7 1117.09L1038.7 1117.09L1038.8 1117.2" fill="none" stroke="#c00000" stroke-width="1.6" stroke-linejoin="round"/>
</g>
<rect x="733.9" y="971.8" width="304.9" height="146" fill="none" stroke="#6e6e6e" stroke-width="1.2"/>
<path d="M733.9 1110.97h-2.3M733.9 1104.15h-2.3M733.9 1097.32h-2.3M733.9 1083.67h-2.3M733.9 1076.85h-2.3M733.9 1070.02h-2.3M733.9 1056.37h-2.3M733.9 1049.55h-2.3M733.9 1042.72h-2.3M733.9 1029.07h-2.3M733.9 1022.25h-2.3M733.9 1015.42h-2.3M733.9 1001.77h-2.3M733.9 994.95h-2.3M733.9 988.12h-2.3M733.9 974.47h-2.3" fill="none" stroke="#2a2a2a" stroke-width="0.8"/>
<path d="M733.9 981.3h-5.2M733.9 1008.6h-5.2M733.9 1035.9h-5.2M733.9 1063.2h-5.2M733.9 1090.5h-5.2M733.9 1117.8h-5.2" fill="none" stroke="#000" stroke-width="1.2"/>
<path d="M734.6 1117.8v4.2M790.2 1117.8v4.2M845.8 1117.8v4.2M902.3 1117.8v4.2M957.9 1117.8v4.2M1013.5 1117.8v4.2M751.34 1117.8v2.2M761.13 1117.8v2.2M768.07 1117.8v2.2M773.46 1117.8v2.2M777.87 1117.8v2.2M781.59 1117.8v2.2M784.81 1117.8v2.2M787.66 1117.8v2.2M806.94 1117.8v2.2M816.73 1117.8v2.2M823.67 1117.8v2.2M829.06 1117.8v2.2M833.47 1117.8v2.2M837.19 1117.8v2.2M840.41 1117.8v2.2M843.26 1117.8v2.2M862.81 1117.8v2.2M872.76 1117.8v2.2M879.82 1117.8v2.2M885.29 1117.8v2.2M889.77 1117.8v2.2M893.55 1117.8v2.2M896.82 1117.8v2.2M899.71 1117.8v2.2M919.04 1117.8v2.2M928.83 1117.8v2.2M935.77 1117.8v2.2M941.16 1117.8v2.2M945.57 1117.8v2.2M949.29 1117.8v2.2M952.51 1117.8v2.2M955.36 1117.8v2.2M974.64 1117.8v2.2M984.43 1117.8v2.2M991.37 1117.8v2.2M996.76 1117.8v2.2M1001.17 1117.8v2.2M1004.89 1117.8v2.2M1008.11 1117.8v2.2M1010.96 1117.8v2.2M1030.24 1117.8v2.2" fill="none" stroke="#1a1a1a" stroke-width="0.9"/>
<rect x="733.9" y="1121.5" width="304.9" height="145.5" fill="#fff"/>
<clipPath id="c_E21"><rect x="733.9" y="1121.5" width="304.9" height="146.5"/></clipPath>
<g clip-path="url(#c_E21)">
<path d="M821.55 1266.4L821.55 1266.94L827.69 1265.56L833.06 1262.79L837.66 1258.19L841.5 1252.82L845.33 1246.68L848.4 1238.24L851.47 1227.5L853.77 1215.22L856.08 1199.87L858.38 1186.06L860.68 1176.85L862.98 1171.48L865.28 1171.02L867.59 1173.02L869.89 1179.92L872.19 1189.13L874.49 1199.87L876.79 1209.08L879.1 1216.75L882.17 1224.43L885.24 1231.33L888.31 1238.24L890.61 1245.91L893.68 1253.59L897.51 1258.96L902.12 1262.03L907.49 1263.1L912.86 1264.64L919.77 1266.94L919.77 1266.4Z" fill="#7f7f7f"/>
<path d="M734.07 1266.4L734.07 1266.94L823.08 1266.94L829.22 1265.1L835.36 1262.03L841.5 1258.96L845.33 1253.59L848.4 1246.68L851.47 1238.24L853.77 1232.1L856.84 1227.8L860.68 1226.73L864.52 1225.96L867.59 1223.66L869.89 1219.82L872.19 1216.29L874.49 1215.68L876.79 1217.52L879.1 1222.89L882.17 1229.8L884.47 1238.24L886.77 1246.68L889.07 1254.35L892.14 1260.49L895.98 1263.56L901.35 1265.56L909.02 1266.63L915.16 1266.94L1038.7 1266.94L1038.7 1266.4Z" fill="#a40000" fill-opacity="0.4"/>
<path d="M733.9 1266.4L734.07 1266.94L823.08 1266.94L829.22 1265.1L835.36 1262.03L841.5 1258.96L845.33 1253.59L848.4 1246.68L851.47 1238.24L853.77 1232.1L856.84 1227.8L860.68 1226.73L864.52 1225.96L867.59 1223.66L869.89 1219.82L872.19 1216.29L874.49 1215.68L876.79 1217.52L879.1 1222.89L882.17 1229.8L884.47 1238.24L886.77 1246.68L889.07 1254.35L892.14 1260.49L895.98 1263.56L901.35 1265.56L909.02 1266.63L915.16 1266.94L1038.7 1266.94L1038.8 1266.4" fill="none" stroke="#c00000" stroke-width="1.6" stroke-linejoin="round"/>
</g>
<rect x="733.9" y="1121.5" width="304.9" height="145.5" fill="none" stroke="#6e6e6e" stroke-width="1.2"/>
<path d="M733.9 1259.85h-2.3M733.9 1252.7h-2.3M733.9 1245.55h-2.3M733.9 1231.25h-2.3M733.9 1224.1h-2.3M733.9 1216.95h-2.3M733.9 1202.65h-2.3M733.9 1195.5h-2.3M733.9 1188.35h-2.3M733.9 1174.05h-2.3M733.9 1166.9h-2.3M733.9 1159.75h-2.3M733.9 1145.45h-2.3M733.9 1138.3h-2.3M733.9 1131.15h-2.3" fill="none" stroke="#2a2a2a" stroke-width="0.8"/>
<path d="M733.9 1124h-5.2M733.9 1152.6h-5.2M733.9 1181.2h-5.2M733.9 1209.8h-5.2M733.9 1238.4h-5.2M733.9 1267h-5.2" fill="none" stroke="#000" stroke-width="1.2"/>
<path d="M734.6 1267v4.2M790.2 1267v4.2M845.8 1267v4.2M902.3 1267v4.2M957.9 1267v4.2M1013.5 1267v4.2M751.34 1267v2.2M761.13 1267v2.2M768.07 1267v2.2M773.46 1267v2.2M777.87 1267v2.2M781.59 1267v2.2M784.81 1267v2.2M787.66 1267v2.2M806.94 1267v2.2M816.73 1267v2.2M823.67 1267v2.2M829.06 1267v2.2M833.47 1267v2.2M837.19 1267v2.2M840.41 1267v2.2M843.26 1267v2.2M862.81 1267v2.2M872.76 1267v2.2M879.82 1267v2.2M885.29 1267v2.2M889.77 1267v2.2M893.55 1267v2.2M896.82 1267v2.2M899.71 1267v2.2M919.04 1267v2.2M928.83 1267v2.2M935.77 1267v2.2M941.16 1267v2.2M945.57 1267v2.2M949.29 1267v2.2M952.51 1267v2.2M955.36 1267v2.2M974.64 1267v2.2M984.43 1267v2.2M991.37 1267v2.2M996.76 1267v2.2M1001.17 1267v2.2M1004.89 1267v2.2M1008.11 1267v2.2M1010.96 1267v2.2M1030.24 1267v2.2" fill="none" stroke="#1a1a1a" stroke-width="0.9"/>
<line x1="722" y1="976.3" x2="722" y2="1115.8" stroke="#000" stroke-width="2"/>
<line x1="722" y1="1125.2" x2="722" y2="1264.7" stroke="#000" stroke-width="2"/>
<text x="712" y="1043.1" font-size="19.6" text-anchor="middle" transform="rotate(-90 712 1043.1)">LSK</text>
<text x="712" y="1194.7" font-size="19.6" text-anchor="middle" transform="rotate(-90 712 1194.7)">HSC</text>
<rect x="947.2" y="982" width="17" height="13.3" fill="#a6a6a6"/>
<rect x="947.2" y="1001.8" width="17" height="13.4" fill="#c00000" stroke="#c00000" stroke-width="0.8"/>
<text x="969.3" y="993.9" font-size="16.2">Control</text>
<text x="969.3" y="1014.3" font-size="16.2">ME7</text>
<rect x="947.2" y="1131.4" width="17" height="13.4" fill="#a6a6a6"/>
<rect x="947.2" y="1151.9" width="17" height="13.6" fill="#c00000" stroke="#c00000" stroke-width="0.8"/>
<text x="969.3" y="1144.2" font-size="16.2">Control</text>
<text x="969.3" y="1164" font-size="16.2">ME7</text>
<line x1="735.4" y1="1284" x2="1037.8" y2="1284" stroke="#000" stroke-width="1.8"/>
<path d="M1030.6 1279.1 L1038.8 1284 L1030.6 1288.9" fill="none" stroke="#000" stroke-width="1.8" stroke-linejoin="miter" stroke-linecap="butt"/>
<text x="743.3" y="1305.9" font-size="20.2">p-p38</text>
<line x1="1126.9" y1="1053.5" x2="1335.8" y2="1053.5" stroke="#a3a3a3" stroke-width="1.2" stroke-dasharray="2.9 2.1"/>
<line x1="1126.9" y1="1076.4" x2="1335.8" y2="1076.4" stroke="#a3a3a3" stroke-width="1.2" stroke-dasharray="2.9 2.1"/>
<line x1="1126.9" y1="1099.4" x2="1335.8" y2="1099.4" stroke="#a3a3a3" stroke-width="1.2" stroke-dasharray="2.9 2.1"/>
<line x1="1126.9" y1="1122.2" x2="1335.8" y2="1122.2" stroke="#a3a3a3" stroke-width="1.2" stroke-dasharray="2.9 2.1"/>
<line x1="1126.9" y1="1144.8" x2="1335.8" y2="1144.8" stroke="#a3a3a3" stroke-width="1.2" stroke-dasharray="2.9 2.1"/>
<line x1="1126.9" y1="1167.8" x2="1335.8" y2="1167.8" stroke="#a3a3a3" stroke-width="1.2" stroke-dasharray="2.9 2.1"/>
<line x1="1126.9" y1="1190.4" x2="1335.8" y2="1190.4" stroke="#a3a3a3" stroke-width="1.2" stroke-dasharray="2.9 2.1"/>
<rect x="1135.4" y="1099.4" width="34.7" height="114.2" fill="#bfbfbf"/>
<rect x="1187.7" y="1090.9" width="34.7" height="122.7" fill="#c00000"/>
<rect x="1240" y="1100.7" width="34" height="112.9" fill="#bfbfbf"/>
<rect x="1291.9" y="1136.2" width="34.4" height="77.4" fill="#c00000"/>
<rect x="1126.9" y="1030.8" width="208.9" height="182.8" fill="none" stroke="#000" stroke-width="1.5"/>
<line x1="1152.7" y1="1065" x2="1152.7" y2="1133.1" stroke="#000" stroke-width="1.6"/>
<line x1="1149.7" y1="1065" x2="1155.7" y2="1065" stroke="#000" stroke-width="1.5"/>
<line x1="1149.7" y1="1133.1" x2="1155.7" y2="1133.1" stroke="#000" stroke-width="1.5"/>
<line x1="1205.1" y1="1048.9" x2="1205.1" y2="1133.1" stroke="#000" stroke-width="1.6"/>
<line x1="1202.1" y1="1048.9" x2="1208.1" y2="1048.9" stroke="#000" stroke-width="1.5"/>
<line x1="1202.1" y1="1133.1" x2="1208.1" y2="1133.1" stroke="#000" stroke-width="1.5"/>
<line x1="1257.2" y1="1064.2" x2="1257.2" y2="1136.2" stroke="#000" stroke-width="1.6"/>
<line x1="1254.2" y1="1064.2" x2="1260.2" y2="1064.2" stroke="#000" stroke-width="1.5"/>
<line x1="1254.2" y1="1136.2" x2="1260.2" y2="1136.2" stroke="#000" stroke-width="1.5"/>
<line x1="1309.2" y1="1120.1" x2="1309.2" y2="1152" stroke="#000" stroke-width="1.6"/>
<line x1="1306.2" y1="1120.1" x2="1312.2" y2="1120.1" stroke="#000" stroke-width="1.5"/>
<line x1="1306.2" y1="1152" x2="1312.2" y2="1152" stroke="#000" stroke-width="1.5"/>
<text x="1115.1" y="1037.4" font-size="19.6" text-anchor="end">1.6</text>
<text x="1115.1" y="1060.19" font-size="19.6" text-anchor="end">1.4</text>
<text x="1115.1" y="1082.98" font-size="19.6" text-anchor="end">1.2</text>
<text x="1115.1" y="1105.77" font-size="19.6" text-anchor="end">1.0</text>
<text x="1115.1" y="1128.56" font-size="19.6" text-anchor="end">0.8</text>
<text x="1115.1" y="1151.35" font-size="19.6" text-anchor="end">0.6</text>
<text x="1115.1" y="1174.14" font-size="19.6" text-anchor="end">0.4</text>
<text x="1115.1" y="1196.93" font-size="19.6" text-anchor="end">0.2</text>
<text x="1115.1" y="1219.72" font-size="19.6" text-anchor="end">0.0</text>
<text x="1073.1" y="1121" font-size="20.3" text-anchor="middle" transform="rotate(-90 1073.1 1121)">Fold change (MFI)</text>
<line x1="1148.2" y1="1057.7" x2="1201.6" y2="1057.7" stroke="#000" stroke-width="2"/>
<text x="1175.6" y="1051.3" font-size="18" text-anchor="middle">ns</text>
<line x1="1257.8" y1="1059.9" x2="1311" y2="1059.9" stroke="#000" stroke-width="2"/>
<text x="1284.9" y="1053.5" font-size="18" text-anchor="middle">ns</text>
<rect x="1249.1" y="988.3" width="17.2" height="13.6" fill="#a6a6a6"/>
<rect x="1249.1" y="1008.3" width="17.2" height="13.6" fill="#c00000"/>
<text x="1271.6" y="1001.5" font-size="17.3">Control</text>
<text x="1271.6" y="1022.2" font-size="17.3">ME7</text>
<line x1="1137.4" y1="1221.7" x2="1221.1" y2="1221.7" stroke="#000" stroke-width="1.8"/>
<line x1="1241.6" y1="1221.7" x2="1325.3" y2="1221.7" stroke="#000" stroke-width="1.8"/>
<text x="1181.8" y="1244.3" font-size="20.2" text-anchor="middle">LSK</text>
<text x="1286.8" y="1244.3" font-size="20.2" text-anchor="middle">HSC</text>
<rect x="1414.7" y="968.9" width="304.9" height="145" fill="#fff"/>
<clipPath id="c_E30"><rect x="1414.7" y="968.9" width="304.9" height="146"/></clipPath>
<g clip-path="url(#c_E30)">
<path d="M1453.44 1113.3L1453.44 1113.32L1461.11 1112.56L1465.71 1110.56L1469.55 1106.73L1473.39 1100.59L1476.46 1092.91L1479.53 1083.71L1481.83 1071.43L1484.13 1059.15L1486.43 1046.87L1488.73 1036.13L1491.04 1028.46L1493.34 1025.39L1495.64 1022.32L1497.17 1014.64L1498.71 1008.51L1500.24 1004.98L1501.78 1008.51L1504.08 1016.95L1505.62 1019.25L1507.46 1018.94L1509.45 1024.62L1511.75 1031.53L1514.06 1036.13L1516.36 1043.8L1518.66 1053.01L1520.96 1060.69L1524.03 1068.36L1527.87 1076.03L1530.94 1083.71L1534.77 1090.61L1539.38 1094.45L1543.98 1099.05L1550.12 1103.66L1556.26 1107.03L1563.93 1109.79L1573.14 1112.1L1580.82 1113.32L1580.82 1113.3Z" fill="#7f7f7f"/>
<path d="M1414.76 1113.3L1414.76 1113.32L1464.18 1113.32L1470.32 1111.64L1476.46 1107.49L1481.06 1102.89L1485.66 1097.52L1490.27 1090.61L1493.34 1084.47L1496.41 1079.1L1499.48 1073.73L1501.78 1066.82L1504.08 1063.75L1507.15 1061.91L1510.22 1061.15L1512.52 1061.45L1514.06 1057.62L1516.36 1050.71L1518.66 1046.87L1521.27 1047.64L1523.26 1046.87L1525.57 1043.8L1527.87 1041.5L1529.4 1041.19L1530.94 1045.34L1533.24 1052.24L1535.54 1056.54L1537.84 1055.31L1540.15 1053.01L1542.76 1052.55L1544.75 1057.62L1547.05 1063.75L1549.35 1069.89L1552.42 1076.03L1555.49 1082.17L1559.33 1088.31L1563.17 1092.91L1566.24 1097.52L1569.31 1102.12L1573.14 1105.96L1577.75 1108.57L1582.35 1110.56L1588.49 1112.1L1596.16 1112.56L1608.44 1112.86L1619.18 1113.32L1719.4 1113.32L1719.4 1113.3Z" fill="#a40000" fill-opacity="0.4"/>
<path d="M1414.7 1113.3L1414.76 1113.32L1464.18 1113.32L1470.32 1111.64L1476.46 1107.49L1481.06 1102.89L1485.66 1097.52L1490.27 1090.61L1493.34 1084.47L1496.41 1079.1L1499.48 1073.73L1501.78 1066.82L1504.08 1063.75L1507.15 1061.91L1510.22 1061.15L1512.52 1061.45L1514.06 1057.62L1516.36 1050.71L1518.66 1046.87L1521.27 1047.64L1523.26 1046.87L1525.57 1043.8L1527.87 1041.5L1529.4 1041.19L1530.94 1045.34L1533.24 1052.24L1535.54 1056.54L1537.84 1055.31L1540.15 1053.01L1542.76 1052.55L1544.75 1057.62L1547.05 1063.75L1549.35 1069.89L1552.42 1076.03L1555.49 1082.17L1559.33 1088.31L1563.17 1092.91L1566.24 1097.52L1569.31 1102.12L1573.14 1105.96L1577.75 1108.57L1582.35 1110.56L1588.49 1112.1L1596.16 1112.56L1608.44 1112.86L1619.18 1113.32L1719.4 1113.32L1719.6 1113.3" fill="none" stroke="#c00000" stroke-width="1.6" stroke-linejoin="round"/>
</g>
<rect x="1414.7" y="968.9" width="304.9" height="145" fill="none" stroke="#6e6e6e" stroke-width="1.2"/>
<path d="M1414.7 1106.05h-2.3M1414.7 1098.2h-2.3M1414.7 1090.35h-2.3M1414.7 1074.65h-2.3M1414.7 1066.8h-2.3M1414.7 1058.95h-2.3M1414.7 1043.25h-2.3M1414.7 1035.4h-2.3M1414.7 1027.55h-2.3M1414.7 1011.85h-2.3M1414.7 1004h-2.3M1414.7 996.15h-2.3M1414.7 980.45h-2.3M1414.7 972.6h-2.3" fill="none" stroke="#2a2a2a" stroke-width="0.8"/>
<path d="M1414.7 988.3h-5.2M1414.7 1019.7h-5.2M1414.7 1051.1h-5.2M1414.7 1082.5h-5.2M1414.7 1113.9h-5.2" fill="none" stroke="#000" stroke-width="1.2"/>
<path d="M1427.8 1113.9v4.4M1535.6 1113.9v4.4M1618.8 1113.9v4.4M1689.3 1113.9v4.4M1560.65 1113.9v2.3M1575.3 1113.9v2.3M1585.69 1113.9v2.3M1593.75 1113.9v2.3M1600.34 1113.9v2.3M1605.91 1113.9v2.3M1610.74 1113.9v2.3M1614.99 1113.9v2.3M1640.02 1113.9v2.3M1652.44 1113.9v2.3M1661.25 1113.9v2.3M1668.08 1113.9v2.3M1673.66 1113.9v2.3M1678.38 1113.9v2.3M1682.47 1113.9v2.3M1686.07 1113.9v2.3M1710.52 1113.9v2.3M1487.09 1113.9v2.3M1476.31 1113.9v2.3M1492.48 1113.9v2.3M1470.92 1113.9v2.3M1497.87 1113.9v2.3M1465.53 1113.9v2.3M1503.26 1113.9v2.3M1460.14 1113.9v2.3M1508.65 1113.9v2.3M1454.75 1113.9v2.3M1514.04 1113.9v2.3M1449.36 1113.9v2.3M1519.43 1113.9v2.3M1443.97 1113.9v2.3M1524.82 1113.9v2.3M1438.58 1113.9v2.3M1530.21 1113.9v2.3M1433.19 1113.9v2.3M1415.28 1113.9v2.3" fill="none" stroke="#1a1a1a" stroke-width="0.9"/>
<rect x="1474.9" y="1114.5" width="13.4" height="1.8" fill="#000"/>
<path d="M1475.4 1116.1v1.4M1478.5 1116.1v1.4M1481.6 1116.1v1.4M1484.7 1116.1v1.4M1487.8 1116.1v1.4" fill="none" stroke="#000" stroke-width="1"/>
<rect x="1414.7" y="1118.1" width="304.9" height="144.4" fill="#fff"/>
<clipPath id="c_E31"><rect x="1414.7" y="1118.1" width="304.9" height="145.4"/></clipPath>
<g clip-path="url(#c_E31)">
<path d="M1458.04 1261.9L1458.04 1262.17L1464.18 1261.1L1469.55 1258.03L1473.39 1253.42L1476.46 1247.28L1479.53 1238.84L1481.83 1229.64L1484.13 1220.43L1486.43 1211.22L1488.73 1203.55L1491.04 1196.64L1493.34 1190.5L1496.41 1185.13L1499.48 1181.29L1501.78 1178.99L1503.62 1178.22L1505.62 1180.53L1507.15 1185.13L1508.69 1191.27L1510.99 1197.41L1514.06 1203.55L1516.36 1208.92L1518.66 1217.36L1521.73 1225.03L1525.57 1231.94L1529.4 1236.54L1533.24 1240.38L1537.84 1243.14L1542.45 1246.52L1547.05 1250.35L1553.19 1254.19L1559.33 1257.26L1567 1259.56L1574.68 1261.1L1583.88 1262.17L1583.88 1261.9Z" fill="#7f7f7f"/>
<path d="M1414.76 1261.9L1414.76 1262.17L1473.39 1262.17L1479.53 1260.02L1485.66 1258.03L1491.8 1256.03L1496.41 1252.96L1500.24 1248.05L1503.31 1243.91L1506.38 1242.68L1509.45 1242.22L1512.52 1239.61L1515.59 1235.01L1518.66 1230.4L1521.73 1228.1L1524.03 1227.03L1526.33 1222.73L1528.64 1215.82L1530.94 1211.99L1532.47 1211.53L1534.77 1213.98L1537.84 1216.13L1540.91 1217.67L1543.98 1217.36L1547.05 1219.66L1550.12 1224.26L1553.19 1229.64L1557.03 1234.24L1559.33 1236.54L1561.63 1242.68L1563.93 1248.05L1567 1251.89L1571.61 1255.73L1576.21 1258.49L1580.82 1260.33L1586.95 1261.86L1593.09 1262.17L1719.4 1262.17L1719.4 1261.9Z" fill="#a40000" fill-opacity="0.4"/>
<path d="M1414.7 1261.9L1414.76 1262.17L1473.39 1262.17L1479.53 1260.02L1485.66 1258.03L1491.8 1256.03L1496.41 1252.96L1500.24 1248.05L1503.31 1243.91L1506.38 1242.68L1509.45 1242.22L1512.52 1239.61L1515.59 1235.01L1518.66 1230.4L1521.73 1228.1L1524.03 1227.03L1526.33 1222.73L1528.64 1215.82L1530.94 1211.99L1532.47 1211.53L1534.77 1213.98L1537.84 1216.13L1540.91 1217.67L1543.98 1217.36L1547.05 1219.66L1550.12 1224.26L1553.19 1229.64L1557.03 1234.24L1559.33 1236.54L1561.63 1242.68L1563.93 1248.05L1567 1251.89L1571.61 1255.73L1576.21 1258.49L1580.82 1260.33L1586.95 1261.86L1593.09 1262.17L1719.4 1262.17L1719.6 1261.9" fill="none" stroke="#c00000" stroke-width="1.6" stroke-linejoin="round"/>
</g>
<rect x="1414.7" y="1118.1" width="304.9" height="144.4" fill="none" stroke="#6e6e6e" stroke-width="1.2"/>
<path d="M1414.7 1250.45h-2.3M1414.7 1238.4h-2.3M1414.7 1226.35h-2.3M1414.7 1202.25h-2.3M1414.7 1190.2h-2.3M1414.7 1178.15h-2.3M1414.7 1154.05h-2.3M1414.7 1142h-2.3M1414.7 1129.95h-2.3" fill="none" stroke="#2a2a2a" stroke-width="0.8"/>
<path d="M1414.7 1166.1h-5.2M1414.7 1214.3h-5.2M1414.7 1262.5h-5.2" fill="none" stroke="#000" stroke-width="1.2"/>
<path d="M1427.8 1262.5v4.4M1535.6 1262.5v4.4M1618.8 1262.5v4.4M1689.3 1262.5v4.4M1560.65 1262.5v2.3M1575.3 1262.5v2.3M1585.69 1262.5v2.3M1593.75 1262.5v2.3M1600.34 1262.5v2.3M1605.91 1262.5v2.3M1610.74 1262.5v2.3M1614.99 1262.5v2.3M1640.02 1262.5v2.3M1652.44 1262.5v2.3M1661.25 1262.5v2.3M1668.08 1262.5v2.3M1673.66 1262.5v2.3M1678.38 1262.5v2.3M1682.47 1262.5v2.3M1686.07 1262.5v2.3M1710.52 1262.5v2.3M1487.09 1262.5v2.3M1476.31 1262.5v2.3M1492.48 1262.5v2.3M1470.92 1262.5v2.3M1497.87 1262.5v2.3M1465.53 1262.5v2.3M1503.26 1262.5v2.3M1460.14 1262.5v2.3M1508.65 1262.5v2.3M1454.75 1262.5v2.3M1514.04 1262.5v2.3M1449.36 1262.5v2.3M1519.43 1262.5v2.3M1443.97 1262.5v2.3M1524.82 1262.5v2.3M1438.58 1262.5v2.3M1530.21 1262.5v2.3M1433.19 1262.5v2.3M1415.28 1262.5v2.3" fill="none" stroke="#1a1a1a" stroke-width="0.9"/>
<rect x="1474.9" y="1263.1" width="13.4" height="1.8" fill="#000"/>
<path d="M1475.4 1264.7v1.4M1478.5 1264.7v1.4M1481.6 1264.7v1.4M1484.7 1264.7v1.4M1487.8 1264.7v1.4" fill="none" stroke="#000" stroke-width="1"/>
<line x1="1402.5" y1="971.2" x2="1402.5" y2="1110.7" stroke="#000" stroke-width="2"/>
<line x1="1402.5" y1="1119.2" x2="1402.5" y2="1259" stroke="#000" stroke-width="2"/>
<text x="1392" y="1037.4" font-size="19.6" text-anchor="middle" transform="rotate(-90 1392 1037.4)">LSK</text>
<text x="1392" y="1189" font-size="19.6" text-anchor="middle" transform="rotate(-90 1392 1189)">HSC</text>
<rect x="1626.6" y="977.7" width="17.6" height="13.6" fill="#a6a6a6"/>
<rect x="1626.6" y="998.1" width="17.6" height="13.1" fill="#c00000" stroke="#c00000" stroke-width="0.8"/>
<text x="1649.3" y="990.2" font-size="16.2">Control</text>
<text x="1649.3" y="1010.3" font-size="16.2">ME7</text>
<rect x="1626.6" y="1127.7" width="17.6" height="13.7" fill="#a6a6a6"/>
<rect x="1626.6" y="1147.9" width="17.6" height="13.3" fill="#c00000" stroke="#c00000" stroke-width="0.8"/>
<text x="1649.3" y="1140.2" font-size="16.2">Control</text>
<text x="1649.3" y="1160.4" font-size="16.2">ME7</text>
<line x1="1416.2" y1="1280.3" x2="1718.6" y2="1280.3" stroke="#000" stroke-width="1.8"/>
<path d="M1711.4 1275.4 L1719.6 1280.3 L1711.4 1285.2" fill="none" stroke="#000" stroke-width="1.8" stroke-linejoin="miter" stroke-linecap="butt"/>
<text x="1423.6" y="1304.4" font-size="20.2">p-JNK</text>
<line x1="1809.4" y1="1054.3" x2="2018.8" y2="1054.3" stroke="#a3a3a3" stroke-width="1.2" stroke-dasharray="2.9 2.1"/>
<line x1="1809.4" y1="1077.1" x2="2018.8" y2="1077.1" stroke="#a3a3a3" stroke-width="1.2" stroke-dasharray="2.9 2.1"/>
<line x1="1809.4" y1="1100.2" x2="2018.8" y2="1100.2" stroke="#a3a3a3" stroke-width="1.2" stroke-dasharray="2.9 2.1"/>
<line x1="1809.4" y1="1122.5" x2="2018.8" y2="1122.5" stroke="#a3a3a3" stroke-width="1.2" stroke-dasharray="2.9 2.1"/>
<line x1="1809.4" y1="1145.5" x2="2018.8" y2="1145.5" stroke="#a3a3a3" stroke-width="1.2" stroke-dasharray="2.9 2.1"/>
<line x1="1809.4" y1="1168.3" x2="2018.8" y2="1168.3" stroke="#a3a3a3" stroke-width="1.2" stroke-dasharray="2.9 2.1"/>
<line x1="1809.4" y1="1191.4" x2="2018.8" y2="1191.4" stroke="#a3a3a3" stroke-width="1.2" stroke-dasharray="2.9 2.1"/>
<rect x="1817.9" y="1168.3" width="34.4" height="46" fill="#bfbfbf"/>
<rect x="1870.2" y="1109.8" width="34.5" height="104.5" fill="#c00000"/>
<rect x="1922.6" y="1168.3" width="34.4" height="46" fill="#bfbfbf"/>
<rect x="1974.9" y="1074.3" width="34.7" height="140" fill="#c00000"/>
<rect x="1809.4" y="1031.4" width="209.4" height="182.9" fill="none" stroke="#000" stroke-width="1.5"/>
<line x1="1835.2" y1="1161.3" x2="1835.2" y2="1176.1" stroke="#000" stroke-width="1.6"/>
<line x1="1832.2" y1="1161.3" x2="1838.2" y2="1161.3" stroke="#000" stroke-width="1.5"/>
<line x1="1832.2" y1="1176.1" x2="1838.2" y2="1176.1" stroke="#000" stroke-width="1.5"/>
<line x1="1887.6" y1="1097.9" x2="1887.6" y2="1122.5" stroke="#000" stroke-width="1.6"/>
<line x1="1884.6" y1="1097.9" x2="1890.6" y2="1097.9" stroke="#000" stroke-width="1.5"/>
<line x1="1884.6" y1="1122.5" x2="1890.6" y2="1122.5" stroke="#000" stroke-width="1.5"/>
<line x1="1939.9" y1="1156.9" x2="1939.9" y2="1179.5" stroke="#000" stroke-width="1.6"/>
<line x1="1936.9" y1="1156.9" x2="1942.9" y2="1156.9" stroke="#000" stroke-width="1.5"/>
<line x1="1936.9" y1="1179.5" x2="1942.9" y2="1179.5" stroke="#000" stroke-width="1.5"/>
<line x1="1992.5" y1="1060" x2="1992.5" y2="1088.5" stroke="#000" stroke-width="1.6"/>
<line x1="1989.5" y1="1060" x2="1995.5" y2="1060" stroke="#000" stroke-width="1.5"/>
<line x1="1989.5" y1="1088.5" x2="1995.5" y2="1088.5" stroke="#000" stroke-width="1.5"/>
<text x="1799.2" y="1038.6" font-size="19.6" text-anchor="end">4.0</text>
<text x="1799.2" y="1084.35" font-size="19.6" text-anchor="end">3.0</text>
<text x="1799.2" y="1130.1" font-size="19.6" text-anchor="end">2.0</text>
<text x="1799.2" y="1175.85" font-size="19.6" text-anchor="end">1.0</text>
<text x="1799.2" y="1221.6" font-size="19.6" text-anchor="end">0.0</text>
<text x="1755.5" y="1122.6" font-size="20.3" text-anchor="middle" transform="rotate(-90 1755.5 1122.6)">Fold change (MFI)</text>
<line x1="1835.7" y1="1090.4" x2="1888.9" y2="1090.4" stroke="#000" stroke-width="2"/>
<text x="1865" y="1094.6" font-size="28.5" text-anchor="middle">***</text>
<line x1="1942.3" y1="1053.9" x2="1995.8" y2="1053.9" stroke="#000" stroke-width="2"/>
<text x="1971.8" y="1057.5" font-size="28.5" text-anchor="middle">***</text>
<rect x="1930.5" y="987" width="18" height="13.6" fill="#a6a6a6"/>
<rect x="1930.5" y="1007" width="18" height="13.6" fill="#c00000"/>
<text x="1953.1" y="1000.2" font-size="17.3">Control</text>
<text x="1953.1" y="1020.4" font-size="17.3">ME7</text>
<line x1="1819.2" y1="1221.7" x2="1902.9" y2="1221.7" stroke="#000" stroke-width="1.8"/>
<line x1="1922.8" y1="1221.7" x2="2007" y2="1221.7" stroke="#000" stroke-width="1.8"/>
<text x="1864" y="1244.3" font-size="20.2" text-anchor="middle">LSK</text>
<text x="1968.5" y="1244.3" font-size="20.2" text-anchor="middle">HSC</text>
</svg>
</body></html>
